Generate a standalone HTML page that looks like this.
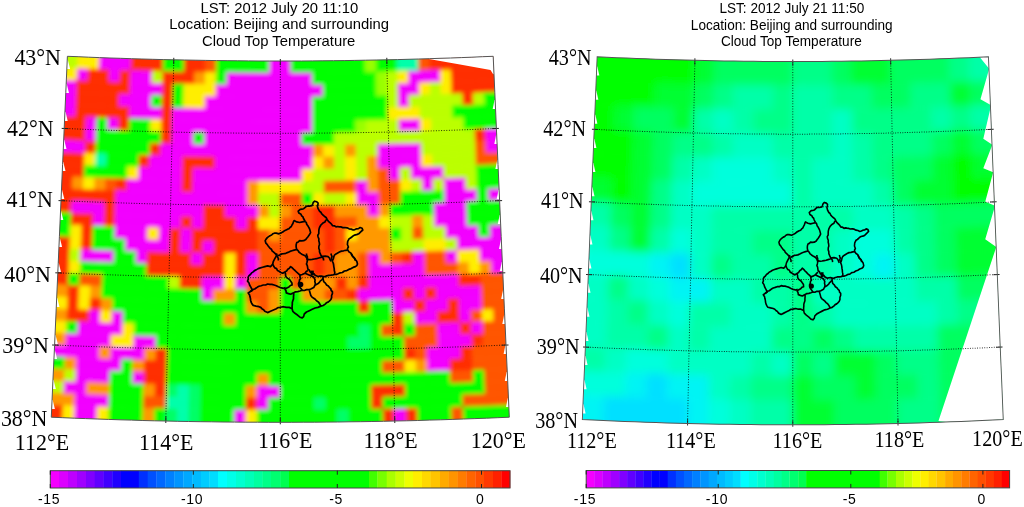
<!DOCTYPE html><html><head><meta charset="utf-8"><style>html,body{margin:0;padding:0;background:#fff;overflow:hidden}svg{display:block}text{opacity:0.999}</style></head><body>
<svg width="1024" height="507" viewBox="0 0 1024 507">
<rect width="1024" height="507" fill="#fff"/>
<g><clipPath id="clip1"><polygon points="67.4,56.3 78.1,56.7 88.7,57.2 99.3,57.6 110,58 120.6,58.3 131.3,58.7 141.9,59 152.6,59.3 163.2,59.6 173.8,59.8 184.5,60 195.1,60.2 205.8,60.4 216.4,60.6 227.1,60.7 237.7,60.8 248.4,60.9 259,61 269.7,61 280.3,61 290.9,61 301.6,61 312.2,60.9 322.9,60.8 333.5,60.7 344.2,60.6 354.8,60.4 365.5,60.2 376.1,60 386.8,59.8 397.4,59.6 408,59.3 418.7,59 429.3,58.7 440,58.3 450.6,58 461.3,57.6 471.9,57.2 482.5,56.7 493.2,56.3 494.8,92.3 496.4,128.4 498,164.5 499.6,200.6 501.2,236.7 502.8,272.8 504.4,308.9 506,345 507.7,381.1 509.3,417.2 497.8,417.7 486.4,418.2 474.9,418.6 463.5,419 452.1,419.4 440.6,419.8 429.2,420.1 417.7,420.5 406.3,420.8 394.8,421 383.4,421.3 371.9,421.5 360.5,421.7 349,421.8 337.6,422 326.1,422.1 314.7,422.2 303.2,422.2 291.8,422.3 280.3,422.3 268.8,422.3 257.4,422.2 245.9,422.2 234.5,422.1 223,422 211.6,421.8 200.1,421.7 188.7,421.5 177.2,421.3 165.8,421 154.3,420.8 142.9,420.5 131.4,420.1 120,419.8 108.5,419.4 97.1,419 85.7,418.6 74.2,418.2 62.8,417.7 51.3,417.2 52.9,381.1 54.6,345 56.2,308.9 57.8,272.8 59.4,236.7 61,200.6 62.6,164.5 64.2,128.4 65.8,92.3"/></clipPath>
<filter id="blur1" x="-5%" y="-5%" width="110%" height="110%"><feGaussianBlur stdDeviation="2.0"/></filter>
<g clip-path="url(#clip1)">
<g filter="url(#blur1)">
<polygon points="60,45.1 78.5,45.9 77.6,68.7 58.9,67.9" fill="#bbff00" stroke="#bbff00" stroke-width="0.8"/>
<polygon points="78.5,45.9 89.1,46.3 99.8,46.7 98.9,69.6 88.2,69.2 77.6,68.7" fill="#ffee00" stroke="#ffee00" stroke-width="0.8"/>
<polygon points="99.8,46.7 110.4,47.1 121,47.5 131.6,47.8 130.9,70.7 120.2,70.4 109.6,70 98.9,69.6" fill="#f200ff" stroke="#f200ff" stroke-width="0.8"/>
<polygon points="131.6,47.8 142.2,48.2 152.8,48.5 163.5,48.7 162.9,71.6 152.2,71.3 141.6,71 130.9,70.7" fill="#ff2d00" stroke="#ff2d00" stroke-width="0.8"/>
<polygon points="163.5,48.7 174.1,49 184.7,49.2 184.2,72.1 173.6,71.9 162.9,71.6" fill="#00ff00" stroke="#00ff00" stroke-width="0.8"/>
<polygon points="184.7,49.2 195.3,49.4 205.9,49.6 205.6,72.5 194.9,72.3 184.2,72.1" fill="#ff2d00" stroke="#ff2d00" stroke-width="0.8"/>
<polygon points="205.9,49.6 216.6,49.7 216.3,72.6 205.6,72.5" fill="#ff5500" stroke="#ff5500" stroke-width="0.8"/>
<polygon points="216.6,49.7 227.2,49.9 237.8,50 248.4,50.1 259.1,50.1 269.7,50.1 269.6,73 259,73 248.3,72.9 237.6,72.9 226.9,72.7 216.3,72.6" fill="#00ff00" stroke="#00ff00" stroke-width="0.8"/>
<polygon points="269.7,50.1 280.3,50.2 290.9,50.1 291,73 280.3,73 269.6,73" fill="#f200ff" stroke="#f200ff" stroke-width="0.8"/>
<polygon points="290.9,50.1 301.5,50.1 312.2,50.1 322.8,50 333.4,49.9 344,49.7 354.7,49.6 365.3,49.4 365.7,72.3 355,72.5 344.3,72.6 333.7,72.7 323,72.9 312.3,72.9 301.6,73 291,73" fill="#00ff00" stroke="#00ff00" stroke-width="0.8"/>
<polygon points="365.3,49.4 375.9,49.2 376.4,72.1 365.7,72.3" fill="#99ff00" stroke="#99ff00" stroke-width="0.8"/>
<polygon points="375.9,49.2 386.5,49 397.1,48.7 397.7,71.6 387,71.9 376.4,72.1" fill="#00ff00" stroke="#00ff00" stroke-width="0.8"/>
<polygon points="397.1,48.7 407.8,48.5 418.4,48.2 419,71 408.4,71.3 397.7,71.6" fill="#00ffaa" stroke="#00ffaa" stroke-width="0.8"/>
<polygon points="418.4,48.2 429,47.8 429.7,70.7 419,71" fill="#ff5500" stroke="#ff5500" stroke-width="0.8"/>
<polygon points="429,47.8 440.9,47.5 452.9,47 464.8,46.6 476.8,46.1 488.7,45.6 500.6,45.1 501.7,67.9 489.7,68.5 477.7,69 465.7,69.5 453.7,69.9 441.7,70.3 429.7,70.7" fill="#ff2d00" stroke="#ff2d00" stroke-width="0.8"/>
<polygon points="58.9,67.9 77.6,68.7 77,80.8 58.3,80" fill="#ffee00" stroke="#ffee00" stroke-width="0.8"/>
<polygon points="77.6,68.7 88.2,69.2 87.7,81.2 77,80.8" fill="#f200ff" stroke="#f200ff" stroke-width="0.8"/>
<polygon points="88.2,69.2 98.9,69.6 109.6,70 109.1,82 98.4,81.6 87.7,81.2" fill="#ff2d00" stroke="#ff2d00" stroke-width="0.8"/>
<polygon points="109.6,70 120.2,70.4 119.8,82.4 109.1,82" fill="#f200ff" stroke="#f200ff" stroke-width="0.8"/>
<polygon points="120.2,70.4 130.9,70.7 130.5,82.7 119.8,82.4" fill="#ff2d00" stroke="#ff2d00" stroke-width="0.8"/>
<polygon points="130.9,70.7 141.6,71 152.2,71.3 151.9,83.4 141.2,83.1 130.5,82.7" fill="#f200ff" stroke="#f200ff" stroke-width="0.8"/>
<polygon points="152.2,71.3 162.9,71.6 162.6,83.6 151.9,83.4" fill="#bbff00" stroke="#bbff00" stroke-width="0.8"/>
<polygon points="162.9,71.6 173.6,71.9 184.2,72.1 194.9,72.3 194.7,84.3 184,84.1 173.3,83.9 162.6,83.6" fill="#ff2d00" stroke="#ff2d00" stroke-width="0.8"/>
<polygon points="194.9,72.3 205.6,72.5 205.4,84.5 194.7,84.3" fill="#ff9900" stroke="#ff9900" stroke-width="0.8"/>
<polygon points="205.6,72.5 216.3,72.6 216.1,84.7 205.4,84.5" fill="#ffee00" stroke="#ffee00" stroke-width="0.8"/>
<polygon points="216.3,72.6 226.9,72.7 226.8,84.8 216.1,84.7" fill="#00ff00" stroke="#00ff00" stroke-width="0.8"/>
<polygon points="226.9,72.7 237.6,72.9 248.3,72.9 259,73 269.6,73 280.3,73 291,73 301.6,73 312.3,72.9 312.4,85 301.7,85 291,85.1 280.3,85.1 269.6,85.1 258.9,85 248.2,85 237.5,84.9 226.8,84.8" fill="#f200ff" stroke="#f200ff" stroke-width="0.8"/>
<polygon points="312.3,72.9 323,72.9 333.7,72.7 344.3,72.6 355,72.5 365.7,72.3 376.4,72.1 376.6,84.1 365.9,84.3 355.2,84.5 344.5,84.7 333.8,84.8 323.1,84.9 312.4,85" fill="#00ff00" stroke="#00ff00" stroke-width="0.8"/>
<polygon points="376.4,72.1 387,71.9 387.3,83.9 376.6,84.1" fill="#99ff00" stroke="#99ff00" stroke-width="0.8"/>
<polygon points="387,71.9 397.7,71.6 398,83.6 387.3,83.9" fill="#bbff00" stroke="#bbff00" stroke-width="0.8"/>
<polygon points="397.7,71.6 408.4,71.3 408.7,83.4 398,83.6" fill="#ffee00" stroke="#ffee00" stroke-width="0.8"/>
<polygon points="408.4,71.3 419,71 429.7,70.7 440.4,70.4 440.8,82.4 430.1,82.7 419.4,83.1 408.7,83.4" fill="#f200ff" stroke="#f200ff" stroke-width="0.8"/>
<polygon points="440.4,70.4 451,70 451.5,82 440.8,82.4" fill="#ffee00" stroke="#ffee00" stroke-width="0.8"/>
<polygon points="451,70 463.7,69.5 476.4,69 489,68.5 501.7,67.9 502.3,80 489.6,80.5 476.9,81.1 464.2,81.6 451.5,82" fill="#ff2d00" stroke="#ff2d00" stroke-width="0.8"/>
<polygon points="58.3,80 77,80.8 76.5,92.8 57.8,92" fill="#f200ff" stroke="#f200ff" stroke-width="0.8"/>
<polygon points="77,80.8 87.7,81.2 98.4,81.6 109.1,82 119.8,82.4 130.5,82.7 130.1,94.8 119.4,94.4 108.7,94.1 98,93.7 87.3,93.3 76.5,92.8" fill="#ff2d00" stroke="#ff2d00" stroke-width="0.8"/>
<polygon points="130.5,82.7 141.2,83.1 151.9,83.4 162.6,83.6 162.3,95.7 151.6,95.4 140.9,95.1 130.1,94.8" fill="#f200ff" stroke="#f200ff" stroke-width="0.8"/>
<polygon points="162.6,83.6 173.3,83.9 173,95.9 162.3,95.7" fill="#ff2d00" stroke="#ff2d00" stroke-width="0.8"/>
<polygon points="173.3,83.9 184,84.1 183.8,96.2 173,95.9" fill="#00ff00" stroke="#00ff00" stroke-width="0.8"/>
<polygon points="184,84.1 194.7,84.3 205.4,84.5 216.1,84.7 215.9,96.7 205.2,96.5 194.5,96.4 183.8,96.2" fill="#ffee00" stroke="#ffee00" stroke-width="0.8"/>
<polygon points="216.1,84.7 226.8,84.8 237.5,84.9 248.2,85 258.9,85 269.6,85.1 280.3,85.1 291,85.1 301.7,85 312.4,85 323.1,84.9 323.2,96.9 312.5,97 301.8,97.1 291,97.1 280.3,97.1 269.6,97.1 258.8,97.1 248.1,97 237.4,96.9 226.7,96.8 215.9,96.7" fill="#f200ff" stroke="#f200ff" stroke-width="0.8"/>
<polygon points="323.1,84.9 333.8,84.8 344.5,84.7 355.2,84.5 365.9,84.3 376.6,84.1 376.8,96.2 366.1,96.4 355.4,96.5 344.7,96.7 333.9,96.8 323.2,96.9" fill="#00ff00" stroke="#00ff00" stroke-width="0.8"/>
<polygon points="376.6,84.1 387.3,83.9 387.6,95.9 376.8,96.2" fill="#99ff00" stroke="#99ff00" stroke-width="0.8"/>
<polygon points="387.3,83.9 398,83.6 398.3,95.7 387.6,95.9" fill="#bbff00" stroke="#bbff00" stroke-width="0.8"/>
<polygon points="398,83.6 408.7,83.4 419.4,83.1 419.7,95.1 409,95.4 398.3,95.7" fill="#f200ff" stroke="#f200ff" stroke-width="0.8"/>
<polygon points="419.4,83.1 430.1,82.7 430.5,94.8 419.7,95.1" fill="#ffee00" stroke="#ffee00" stroke-width="0.8"/>
<polygon points="430.1,82.7 440.8,82.4 441.2,94.4 430.5,94.8" fill="#bbff00" stroke="#bbff00" stroke-width="0.8"/>
<polygon points="440.8,82.4 451.5,82 451.9,94.1 441.2,94.4" fill="#ffee00" stroke="#ffee00" stroke-width="0.8"/>
<polygon points="451.5,82 464.2,81.6 476.9,81.1 489.6,80.5 502.3,80 502.8,92 490.1,92.6 477.4,93.1 464.6,93.6 451.9,94.1" fill="#ff2d00" stroke="#ff2d00" stroke-width="0.8"/>
<polygon points="57.8,92 76.5,92.8 76,104.8 57.2,104" fill="#f200ff" stroke="#f200ff" stroke-width="0.8"/>
<polygon points="76.5,92.8 87.3,93.3 98,93.7 108.7,94.1 119.4,94.4 119,106.5 108.3,106.1 97.5,105.7 86.8,105.3 76,104.8" fill="#ff2d00" stroke="#ff2d00" stroke-width="0.8"/>
<polygon points="119.4,94.4 130.1,94.8 140.9,95.1 151.6,95.4 151.3,107.4 140.5,107.1 129.8,106.8 119,106.5" fill="#f200ff" stroke="#f200ff" stroke-width="0.8"/>
<polygon points="151.6,95.4 162.3,95.7 162,107.7 151.3,107.4" fill="#00ff00" stroke="#00ff00" stroke-width="0.8"/>
<polygon points="162.3,95.7 173,95.9 172.8,108 162,107.7" fill="#ff2d00" stroke="#ff2d00" stroke-width="0.8"/>
<polygon points="173,95.9 183.8,96.2 183.5,108.2 172.8,108" fill="#00ff00" stroke="#00ff00" stroke-width="0.8"/>
<polygon points="183.8,96.2 194.5,96.4 205.2,96.5 205,108.6 194.3,108.4 183.5,108.2" fill="#ffee00" stroke="#ffee00" stroke-width="0.8"/>
<polygon points="205.2,96.5 215.9,96.7 226.7,96.8 237.4,96.9 248.1,97 258.8,97.1 269.6,97.1 280.3,97.1 291,97.1 301.8,97.1 312.5,97 312.6,109.1 301.8,109.1 291.1,109.2 280.3,109.2 269.5,109.2 258.8,109.1 248,109.1 237.3,109 226.5,108.9 215.8,108.7 205,108.6" fill="#f200ff" stroke="#f200ff" stroke-width="0.8"/>
<polygon points="312.5,97 323.2,96.9 333.9,96.8 344.7,96.7 355.4,96.5 366.1,96.4 376.8,96.2 387.6,95.9 387.8,108 377.1,108.2 366.3,108.4 355.6,108.6 344.8,108.7 334.1,108.9 323.3,109 312.6,109.1" fill="#00ff00" stroke="#00ff00" stroke-width="0.8"/>
<polygon points="387.6,95.9 398.3,95.7 398.6,107.7 387.8,108" fill="#bbff00" stroke="#bbff00" stroke-width="0.8"/>
<polygon points="398.3,95.7 409,95.4 409.3,107.4 398.6,107.7" fill="#f200ff" stroke="#f200ff" stroke-width="0.8"/>
<polygon points="409,95.4 419.7,95.1 430.5,94.8 441.2,94.4 451.9,94.1 462.6,93.7 463.1,105.7 452.3,106.1 441.6,106.5 430.8,106.8 420.1,107.1 409.3,107.4" fill="#bbff00" stroke="#bbff00" stroke-width="0.8"/>
<polygon points="462.6,93.7 473.3,93.3 473.8,105.3 463.1,105.7" fill="#ff2d00" stroke="#ff2d00" stroke-width="0.8"/>
<polygon points="473.3,93.3 484.1,92.8 484.6,104.8 473.8,105.3" fill="#bbff00" stroke="#bbff00" stroke-width="0.8"/>
<polygon points="484.1,92.8 502.8,92 503.4,104 484.6,104.8" fill="#00ff00" stroke="#00ff00" stroke-width="0.8"/>
<polygon points="57.2,104 76,104.8 75.5,116.9 56.7,116" fill="#f200ff" stroke="#f200ff" stroke-width="0.8"/>
<polygon points="76,104.8 86.8,105.3 97.5,105.7 108.3,106.1 119,106.5 129.8,106.8 129.4,118.9 118.6,118.5 107.8,118.1 97.1,117.7 86.3,117.3 75.5,116.9" fill="#ff2d00" stroke="#ff2d00" stroke-width="0.8"/>
<polygon points="129.8,106.8 140.5,107.1 151.3,107.4 162,107.7 161.7,119.8 150.9,119.5 140.2,119.2 129.4,118.9" fill="#f200ff" stroke="#f200ff" stroke-width="0.8"/>
<polygon points="162,107.7 172.8,108 172.5,120 161.7,119.8" fill="#ff2d00" stroke="#ff2d00" stroke-width="0.8"/>
<polygon points="172.8,108 183.5,108.2 194.3,108.4 205,108.6 215.8,108.7 226.5,108.9 237.3,109 248,109.1 258.8,109.1 269.5,109.2 280.3,109.2 291.1,109.2 301.8,109.1 312.6,109.1 312.6,121.1 301.9,121.2 291.1,121.2 280.3,121.2 269.5,121.2 258.7,121.2 248,121.1 237.2,121 226.4,120.9 215.6,120.8 204.8,120.6 194.1,120.4 183.3,120.2 172.5,120" fill="#f200ff" stroke="#f200ff" stroke-width="0.8"/>
<polygon points="312.6,109.1 323.3,109 334.1,108.9 344.8,108.7 355.6,108.6 366.3,108.4 377.1,108.2 387.8,108 388.1,120 377.3,120.2 366.5,120.4 355.8,120.6 345,120.8 334.2,120.9 323.4,121 312.6,121.1" fill="#00ff00" stroke="#00ff00" stroke-width="0.8"/>
<polygon points="387.8,108 398.6,107.7 409.3,107.4 420.1,107.1 420.4,119.2 409.7,119.5 398.9,119.8 388.1,120" fill="#ffee00" stroke="#ffee00" stroke-width="0.8"/>
<polygon points="420.1,107.1 430.8,106.8 441.6,106.5 452.3,106.1 452.8,118.1 442,118.5 431.2,118.9 420.4,119.2" fill="#bbff00" stroke="#bbff00" stroke-width="0.8"/>
<polygon points="452.3,106.1 465.1,105.6 477.9,105.1 490.6,104.6 503.4,104 503.9,116 491.1,116.6 478.3,117.2 465.6,117.7 452.8,118.1" fill="#00ff00" stroke="#00ff00" stroke-width="0.8"/>
<polygon points="56.7,116 71.5,116.7 86.3,117.3 85.8,129.4 71,128.7 56.1,128.1" fill="#ff2d00" stroke="#ff2d00" stroke-width="0.8"/>
<polygon points="86.3,117.3 97.1,117.7 96.6,129.8 85.8,129.4" fill="#f200ff" stroke="#f200ff" stroke-width="0.8"/>
<polygon points="97.1,117.7 107.8,118.1 107.4,130.2 96.6,129.8" fill="#00ff00" stroke="#00ff00" stroke-width="0.8"/>
<polygon points="107.8,118.1 118.6,118.5 118.2,130.6 107.4,130.2" fill="#f200ff" stroke="#f200ff" stroke-width="0.8"/>
<polygon points="118.6,118.5 129.4,118.9 129,130.9 118.2,130.6" fill="#ff2d00" stroke="#ff2d00" stroke-width="0.8"/>
<polygon points="129.4,118.9 140.2,119.2 150.9,119.5 150.6,131.5 139.8,131.2 129,130.9" fill="#00ff00" stroke="#00ff00" stroke-width="0.8"/>
<polygon points="150.9,119.5 161.7,119.8 161.4,131.8 150.6,131.5" fill="#ffee00" stroke="#ffee00" stroke-width="0.8"/>
<polygon points="161.7,119.8 172.5,120 172.2,132.1 161.4,131.8" fill="#ff2d00" stroke="#ff2d00" stroke-width="0.8"/>
<polygon points="172.5,120 183.3,120.2 194.1,120.4 204.8,120.6 215.6,120.8 226.4,120.9 237.2,121 248,121.1 258.7,121.2 269.5,121.2 280.3,121.2 291.1,121.2 301.9,121.2 312.6,121.1 312.7,133.2 301.9,133.2 291.1,133.2 280.3,133.3 269.5,133.2 258.7,133.2 247.9,133.2 237.1,133.1 226.3,133 215.5,132.8 204.6,132.7 193.8,132.5 183,132.3 172.2,132.1" fill="#f200ff" stroke="#f200ff" stroke-width="0.8"/>
<polygon points="312.6,121.1 323.4,121 334.2,120.9 345,120.8 355.8,120.6 356,132.7 345.1,132.8 334.3,133 323.5,133.1 312.7,133.2" fill="#00ff00" stroke="#00ff00" stroke-width="0.8"/>
<polygon points="355.8,120.6 366.5,120.4 366.8,132.5 356,132.7" fill="#99ff00" stroke="#99ff00" stroke-width="0.8"/>
<polygon points="366.5,120.4 377.3,120.2 388.1,120 398.9,119.8 399.2,131.8 388.4,132.1 377.6,132.3 366.8,132.5" fill="#bbff00" stroke="#bbff00" stroke-width="0.8"/>
<polygon points="398.9,119.8 409.7,119.5 420.4,119.2 420.8,131.2 410,131.5 399.2,131.8" fill="#f200ff" stroke="#f200ff" stroke-width="0.8"/>
<polygon points="420.4,119.2 431.2,118.9 431.6,130.9 420.8,131.2" fill="#ffee00" stroke="#ffee00" stroke-width="0.8"/>
<polygon points="431.2,118.9 442,118.5 452.8,118.1 463.5,117.7 464,129.8 453.2,130.2 442.4,130.6 431.6,130.9" fill="#bbff00" stroke="#bbff00" stroke-width="0.8"/>
<polygon points="463.5,117.7 477,117.2 490.5,116.6 503.9,116 504.5,128.1 491,128.7 477.5,129.2 464,129.8" fill="#00ff00" stroke="#00ff00" stroke-width="0.8"/>
<polygon points="56.1,128.1 71,128.7 85.8,129.4 85.3,141.4 70.4,140.8 55.6,140.1" fill="#ff2d00" stroke="#ff2d00" stroke-width="0.8"/>
<polygon points="85.8,129.4 96.6,129.8 96.2,141.8 85.3,141.4" fill="#f200ff" stroke="#f200ff" stroke-width="0.8"/>
<polygon points="96.6,129.8 107.4,130.2 118.2,130.6 129,130.9 139.8,131.2 150.6,131.5 161.4,131.8 161.1,143.8 150.3,143.6 139.5,143.3 128.6,142.9 117.8,142.6 107,142.2 96.2,141.8" fill="#00ff00" stroke="#00ff00" stroke-width="0.8"/>
<polygon points="161.4,131.8 172.2,132.1 172,144.1 161.1,143.8" fill="#ff2d00" stroke="#ff2d00" stroke-width="0.8"/>
<polygon points="172.2,132.1 183,132.3 193.8,132.5 193.6,144.5 182.8,144.3 172,144.1" fill="#f200ff" stroke="#f200ff" stroke-width="0.8"/>
<polygon points="193.8,132.5 204.6,132.7 204.5,144.7 193.6,144.5" fill="#00ff00" stroke="#00ff00" stroke-width="0.8"/>
<polygon points="204.6,132.7 215.5,132.8 226.3,133 237.1,133.1 247.9,133.2 258.7,133.2 269.5,133.2 280.3,133.3 291.1,133.2 301.9,133.2 302,145.3 291.1,145.3 280.3,145.3 269.5,145.3 258.6,145.3 247.8,145.2 237,145.1 226.1,145 215.3,144.9 204.5,144.7" fill="#f200ff" stroke="#f200ff" stroke-width="0.8"/>
<polygon points="301.9,133.2 312.7,133.2 323.5,133.1 334.3,133 334.5,145 323.6,145.1 312.8,145.2 302,145.3" fill="#00ff00" stroke="#00ff00" stroke-width="0.8"/>
<polygon points="334.3,133 345.1,132.8 356,132.7 366.8,132.5 377.6,132.3 388.4,132.1 399.2,131.8 410,131.5 420.8,131.2 431.6,130.9 442.4,130.6 453.2,130.2 464,129.8 474.8,129.4 475.3,141.4 464.4,141.8 453.6,142.2 442.8,142.6 432,142.9 421.1,143.3 410.3,143.6 399.5,143.8 388.6,144.1 377.8,144.3 367,144.5 356.1,144.7 345.3,144.9 334.5,145" fill="#bbff00" stroke="#bbff00" stroke-width="0.8"/>
<polygon points="474.8,129.4 485.6,128.9 486.1,140.9 475.3,141.4" fill="#ff2d00" stroke="#ff2d00" stroke-width="0.8"/>
<polygon points="485.6,128.9 504.5,128.1 505,140.1 486.1,140.9" fill="#f200ff" stroke="#f200ff" stroke-width="0.8"/>
<polygon points="55.6,140.1 70.4,140.8 85.3,141.4 84.8,153.4 69.9,152.8 55,152.1" fill="#f200ff" stroke="#f200ff" stroke-width="0.8"/>
<polygon points="85.3,141.4 96.2,141.8 95.7,153.8 84.8,153.4" fill="#ff2d00" stroke="#ff2d00" stroke-width="0.8"/>
<polygon points="96.2,141.8 107,142.2 117.8,142.6 128.6,142.9 139.5,143.3 150.3,143.6 150,155.6 139.1,155.3 128.3,155 117.4,154.6 106.6,154.2 95.7,153.8" fill="#00ff00" stroke="#00ff00" stroke-width="0.8"/>
<polygon points="150.3,143.6 161.1,143.8 160.8,155.9 150,155.6" fill="#ff2d00" stroke="#ff2d00" stroke-width="0.8"/>
<polygon points="161.1,143.8 172,144.1 182.8,144.3 193.6,144.5 204.5,144.7 215.3,144.9 226.1,145 237,145.1 247.8,145.2 258.6,145.3 269.5,145.3 280.3,145.3 291.1,145.3 302,145.3 312.8,145.2 312.9,157.2 302,157.3 291.2,157.3 280.3,157.3 269.4,157.3 258.6,157.3 247.7,157.2 236.9,157.2 226,157 215.1,156.9 204.3,156.8 193.4,156.6 182.6,156.4 171.7,156.1 160.8,155.9" fill="#f200ff" stroke="#f200ff" stroke-width="0.8"/>
<polygon points="312.8,145.2 323.6,145.1 323.7,157.2 312.9,157.2" fill="#ff9900" stroke="#ff9900" stroke-width="0.8"/>
<polygon points="323.6,145.1 334.5,145 334.6,157 323.7,157.2" fill="#ffee00" stroke="#ffee00" stroke-width="0.8"/>
<polygon points="334.5,145 345.3,144.9 345.5,156.9 334.6,157" fill="#bbff00" stroke="#bbff00" stroke-width="0.8"/>
<polygon points="345.3,144.9 356.1,144.7 356.3,156.8 345.5,156.9" fill="#ff9900" stroke="#ff9900" stroke-width="0.8"/>
<polygon points="356.1,144.7 367,144.5 377.8,144.3 378,156.4 367.2,156.6 356.3,156.8" fill="#bbff00" stroke="#bbff00" stroke-width="0.8"/>
<polygon points="377.8,144.3 388.6,144.1 399.5,143.8 410.3,143.6 421.1,143.3 421.5,155.3 410.6,155.6 399.8,155.9 388.9,156.1 378,156.4" fill="#f200ff" stroke="#f200ff" stroke-width="0.8"/>
<polygon points="421.1,143.3 432,142.9 442.8,142.6 453.6,142.2 464.4,141.8 475.3,141.4 475.8,153.4 464.9,153.8 454,154.2 443.2,154.6 432.3,155 421.5,155.3" fill="#bbff00" stroke="#bbff00" stroke-width="0.8"/>
<polygon points="475.3,141.4 486.1,140.9 486.6,153 475.8,153.4" fill="#ff5500" stroke="#ff5500" stroke-width="0.8"/>
<polygon points="486.1,140.9 505,140.1 505.6,152.1 486.6,153" fill="#f200ff" stroke="#f200ff" stroke-width="0.8"/>
<polygon points="55,152.1 69.9,152.8 84.8,153.4 84.4,165.5 69.4,164.8 54.4,164.2" fill="#ff2d00" stroke="#ff2d00" stroke-width="0.8"/>
<polygon points="84.8,153.4 95.7,153.8 95.2,165.9 84.4,165.5" fill="#ffee00" stroke="#ffee00" stroke-width="0.8"/>
<polygon points="95.7,153.8 106.6,154.2 106.1,166.3 95.2,165.9" fill="#00ffaa" stroke="#00ffaa" stroke-width="0.8"/>
<polygon points="106.6,154.2 117.4,154.6 128.3,155 139.1,155.3 138.8,167.3 127.9,167 117,166.7 106.1,166.3" fill="#00ff00" stroke="#00ff00" stroke-width="0.8"/>
<polygon points="139.1,155.3 150,155.6 149.7,167.6 138.8,167.3" fill="#ff2d00" stroke="#ff2d00" stroke-width="0.8"/>
<polygon points="150,155.6 160.8,155.9 171.7,156.1 182.6,156.4 182.3,168.4 171.4,168.2 160.5,167.9 149.7,167.6" fill="#f200ff" stroke="#f200ff" stroke-width="0.8"/>
<polygon points="182.6,156.4 193.4,156.6 204.3,156.8 215.1,156.9 215,169 204.1,168.8 193.2,168.6 182.3,168.4" fill="#ff2d00" stroke="#ff2d00" stroke-width="0.8"/>
<polygon points="215.1,156.9 226,157 236.9,157.2 247.7,157.2 258.6,157.3 269.4,157.3 280.3,157.3 291.2,157.3 302,157.3 312.9,157.2 313,169.3 302.1,169.3 291.2,169.4 280.3,169.4 269.4,169.4 258.5,169.3 247.6,169.3 236.7,169.2 225.9,169.1 215,169" fill="#f200ff" stroke="#f200ff" stroke-width="0.8"/>
<polygon points="312.9,157.2 323.7,157.2 323.9,169.2 313,169.3" fill="#ffee00" stroke="#ffee00" stroke-width="0.8"/>
<polygon points="323.7,157.2 334.6,157 334.7,169.1 323.9,169.2" fill="#ff9900" stroke="#ff9900" stroke-width="0.8"/>
<polygon points="334.6,157 345.5,156.9 345.6,169 334.7,169.1" fill="#bbff00" stroke="#bbff00" stroke-width="0.8"/>
<polygon points="345.5,156.9 356.3,156.8 356.5,168.8 345.6,169" fill="#ffee00" stroke="#ffee00" stroke-width="0.8"/>
<polygon points="356.3,156.8 367.2,156.6 367.4,168.6 356.5,168.8" fill="#bbff00" stroke="#bbff00" stroke-width="0.8"/>
<polygon points="367.2,156.6 378,156.4 378.3,168.4 367.4,168.6" fill="#ff9900" stroke="#ff9900" stroke-width="0.8"/>
<polygon points="378,156.4 388.9,156.1 399.8,155.9 410.6,155.6 421.5,155.3 421.8,167.3 410.9,167.6 400.1,167.9 389.2,168.2 378.3,168.4" fill="#f200ff" stroke="#f200ff" stroke-width="0.8"/>
<polygon points="421.5,155.3 432.3,155 432.7,167 421.8,167.3" fill="#ffee00" stroke="#ffee00" stroke-width="0.8"/>
<polygon points="432.3,155 443.2,154.6 454,154.2 464.9,153.8 475.8,153.4 476.2,165.5 465.4,165.9 454.5,166.3 443.6,166.7 432.7,167" fill="#bbff00" stroke="#bbff00" stroke-width="0.8"/>
<polygon points="475.8,153.4 490.7,152.8 505.6,152.1 506.2,164.2 491.2,164.8 476.2,165.5" fill="#ff5500" stroke="#ff5500" stroke-width="0.8"/>
<polygon points="54.4,164.2 69.4,164.8 84.4,165.5 83.9,177.5 68.9,176.9 53.9,176.2" fill="#ff2d00" stroke="#ff2d00" stroke-width="0.8"/>
<polygon points="84.4,165.5 95.2,165.9 106.1,166.3 117,166.7 127.9,167 127.5,179 116.6,178.7 105.7,178.3 94.8,177.9 83.9,177.5" fill="#00ff00" stroke="#00ff00" stroke-width="0.8"/>
<polygon points="127.9,167 138.8,167.3 138.4,179.4 127.5,179" fill="#ffee00" stroke="#ffee00" stroke-width="0.8"/>
<polygon points="138.8,167.3 149.7,167.6 160.5,167.9 171.4,168.2 182.3,168.4 182.1,180.4 171.2,180.2 160.2,180 149.3,179.7 138.4,179.4" fill="#f200ff" stroke="#f200ff" stroke-width="0.8"/>
<polygon points="182.3,168.4 193.2,168.6 193,180.7 182.1,180.4" fill="#ff2d00" stroke="#ff2d00" stroke-width="0.8"/>
<polygon points="193.2,168.6 204.1,168.8 215,169 225.9,169.1 236.7,169.2 247.6,169.3 258.5,169.3 269.4,169.4 280.3,169.4 291.2,169.4 302.1,169.3 302.1,181.4 291.2,181.4 280.3,181.4 269.4,181.4 258.5,181.4 247.6,181.3 236.6,181.2 225.7,181.1 214.8,181 203.9,180.8 193,180.7" fill="#f200ff" stroke="#f200ff" stroke-width="0.8"/>
<polygon points="302.1,169.3 313,169.3 313,181.3 302.1,181.4" fill="#ffee00" stroke="#ffee00" stroke-width="0.8"/>
<polygon points="313,169.3 323.9,169.2 334.7,169.1 345.6,169 345.8,181 334.9,181.1 324,181.2 313,181.3" fill="#bbff00" stroke="#bbff00" stroke-width="0.8"/>
<polygon points="345.6,169 356.5,168.8 356.7,180.8 345.8,181" fill="#ffee00" stroke="#ffee00" stroke-width="0.8"/>
<polygon points="356.5,168.8 367.4,168.6 367.6,180.7 356.7,180.8" fill="#bbff00" stroke="#bbff00" stroke-width="0.8"/>
<polygon points="367.4,168.6 378.3,168.4 378.5,180.4 367.6,180.7" fill="#ff9900" stroke="#ff9900" stroke-width="0.8"/>
<polygon points="378.3,168.4 389.2,168.2 389.4,180.2 378.5,180.4" fill="#ff5500" stroke="#ff5500" stroke-width="0.8"/>
<polygon points="389.2,168.2 400.1,167.9 400.4,180 389.4,180.2" fill="#f200ff" stroke="#f200ff" stroke-width="0.8"/>
<polygon points="400.1,167.9 410.9,167.6 411.3,179.7 400.4,180" fill="#bbff00" stroke="#bbff00" stroke-width="0.8"/>
<polygon points="410.9,167.6 421.8,167.3 432.7,167 443.6,166.7 444,178.7 433.1,179 422.2,179.4 411.3,179.7" fill="#f200ff" stroke="#f200ff" stroke-width="0.8"/>
<polygon points="443.6,166.7 454.5,166.3 465.4,165.9 476.2,165.5 476.7,177.5 465.8,177.9 454.9,178.3 444,178.7" fill="#bbff00" stroke="#bbff00" stroke-width="0.8"/>
<polygon points="476.2,165.5 491.2,164.8 506.2,164.2 506.7,176.2 491.7,176.9 476.7,177.5" fill="#00ff00" stroke="#00ff00" stroke-width="0.8"/>
<polygon points="53.9,176.2 73,177 72.5,189.1 53.3,188.2" fill="#ff2d00" stroke="#ff2d00" stroke-width="0.8"/>
<polygon points="73,177 83.9,177.5 83.4,189.5 72.5,189.1" fill="#ff9900" stroke="#ff9900" stroke-width="0.8"/>
<polygon points="83.9,177.5 94.8,177.9 94.3,190 83.4,189.5" fill="#ffee00" stroke="#ffee00" stroke-width="0.8"/>
<polygon points="94.8,177.9 105.7,178.3 105.3,190.4 94.3,190" fill="#ff9900" stroke="#ff9900" stroke-width="0.8"/>
<polygon points="105.7,178.3 116.6,178.7 116.2,190.7 105.3,190.4" fill="#ff5500" stroke="#ff5500" stroke-width="0.8"/>
<polygon points="116.6,178.7 127.5,179 127.1,191.1 116.2,190.7" fill="#ff2d00" stroke="#ff2d00" stroke-width="0.8"/>
<polygon points="127.5,179 138.4,179.4 149.3,179.7 160.2,180 171.2,180.2 182.1,180.4 181.8,192.5 170.9,192.3 159.9,192 149,191.7 138.1,191.4 127.1,191.1" fill="#f200ff" stroke="#f200ff" stroke-width="0.8"/>
<polygon points="182.1,180.4 193,180.7 192.8,192.7 181.8,192.5" fill="#ff2d00" stroke="#ff2d00" stroke-width="0.8"/>
<polygon points="193,180.7 203.9,180.8 214.8,181 225.7,181.1 236.6,181.2 247.6,181.3 247.5,193.4 236.5,193.3 225.6,193.2 214.6,193 203.7,192.9 192.8,192.7" fill="#f200ff" stroke="#f200ff" stroke-width="0.8"/>
<polygon points="247.6,181.3 258.5,181.4 258.4,193.4 247.5,193.4" fill="#ff9900" stroke="#ff9900" stroke-width="0.8"/>
<polygon points="258.5,181.4 269.4,181.4 280.3,181.4 291.2,181.4 302.1,181.4 302.2,193.4 291.2,193.5 280.3,193.5 269.4,193.5 258.4,193.4" fill="#ffee00" stroke="#ffee00" stroke-width="0.8"/>
<polygon points="302.1,181.4 313,181.3 324,181.2 324.1,193.3 313.1,193.4 302.2,193.4" fill="#bbff00" stroke="#bbff00" stroke-width="0.8"/>
<polygon points="324,181.2 334.9,181.1 345.8,181 356.7,180.8 356.9,192.9 346,193 335,193.2 324.1,193.3" fill="#ff5500" stroke="#ff5500" stroke-width="0.8"/>
<polygon points="356.7,180.8 367.6,180.7 367.8,192.7 356.9,192.9" fill="#f200ff" stroke="#f200ff" stroke-width="0.8"/>
<polygon points="367.6,180.7 378.5,180.4 378.8,192.5 367.8,192.7" fill="#ff9900" stroke="#ff9900" stroke-width="0.8"/>
<polygon points="378.5,180.4 389.4,180.2 400.4,180 400.7,192 389.7,192.3 378.8,192.5" fill="#ff5500" stroke="#ff5500" stroke-width="0.8"/>
<polygon points="400.4,180 411.3,179.7 411.6,191.7 400.7,192" fill="#ffee00" stroke="#ffee00" stroke-width="0.8"/>
<polygon points="411.3,179.7 422.2,179.4 422.5,191.4 411.6,191.7" fill="#bbff00" stroke="#bbff00" stroke-width="0.8"/>
<polygon points="422.2,179.4 433.1,179 433.5,191.1 422.5,191.4" fill="#f200ff" stroke="#f200ff" stroke-width="0.8"/>
<polygon points="433.1,179 444,178.7 444.4,190.7 433.5,191.1" fill="#bbff00" stroke="#bbff00" stroke-width="0.8"/>
<polygon points="444,178.7 454.9,178.3 465.8,177.9 466.3,190 455.3,190.4 444.4,190.7" fill="#f200ff" stroke="#f200ff" stroke-width="0.8"/>
<polygon points="465.8,177.9 476.7,177.5 477.2,189.5 466.3,190" fill="#bbff00" stroke="#bbff00" stroke-width="0.8"/>
<polygon points="476.7,177.5 491.7,176.9 506.7,176.2 507.3,188.2 492.2,188.9 477.2,189.5" fill="#00ff00" stroke="#00ff00" stroke-width="0.8"/>
<polygon points="53.3,188.2 65.9,188.8 78.5,189.3 91,189.8 103.6,190.3 116.2,190.7 115.8,202.8 103.2,202.3 90.6,201.9 78,201.4 65.4,200.8 52.8,200.3" fill="#ff2d00" stroke="#ff2d00" stroke-width="0.8"/>
<polygon points="116.2,190.7 127.1,191.1 138.1,191.4 149,191.7 159.9,192 170.9,192.3 181.8,192.5 192.8,192.7 203.7,192.9 214.6,193 225.6,193.2 236.5,193.3 247.5,193.4 247.4,205.4 236.4,205.3 225.5,205.2 214.5,205.1 203.5,204.9 192.6,204.7 181.6,204.5 170.6,204.3 159.7,204 148.7,203.8 137.7,203.5 126.8,203.1 115.8,202.8" fill="#f200ff" stroke="#f200ff" stroke-width="0.8"/>
<polygon points="247.5,193.4 258.4,193.4 258.4,205.5 247.4,205.4" fill="#ff9900" stroke="#ff9900" stroke-width="0.8"/>
<polygon points="258.4,193.4 269.4,193.5 280.3,193.5 280.3,205.5 269.3,205.5 258.4,205.5" fill="#bbff00" stroke="#bbff00" stroke-width="0.8"/>
<polygon points="280.3,193.5 291.2,193.5 302.2,193.4 302.2,205.5 291.3,205.5 280.3,205.5" fill="#ff5500" stroke="#ff5500" stroke-width="0.8"/>
<polygon points="302.2,193.4 313.1,193.4 313.2,205.4 302.2,205.5" fill="#00ff00" stroke="#00ff00" stroke-width="0.8"/>
<polygon points="313.1,193.4 324.1,193.3 324.2,205.3 313.2,205.4" fill="#ffee00" stroke="#ffee00" stroke-width="0.8"/>
<polygon points="324.1,193.3 335,193.2 346,193 346.1,205.1 335.1,205.2 324.2,205.3" fill="#bbff00" stroke="#bbff00" stroke-width="0.8"/>
<polygon points="346,193 356.9,192.9 357.1,204.9 346.1,205.1" fill="#ffee00" stroke="#ffee00" stroke-width="0.8"/>
<polygon points="356.9,192.9 367.8,192.7 378.8,192.5 379,204.5 368,204.7 357.1,204.9" fill="#f200ff" stroke="#f200ff" stroke-width="0.8"/>
<polygon points="378.8,192.5 389.7,192.3 400.7,192 400.9,204 390,204.3 379,204.5" fill="#ff5500" stroke="#ff5500" stroke-width="0.8"/>
<polygon points="400.7,192 411.6,191.7 422.5,191.4 433.5,191.1 444.4,190.7 444.8,202.8 433.8,203.1 422.9,203.5 411.9,203.8 400.9,204" fill="#00ff00" stroke="#00ff00" stroke-width="0.8"/>
<polygon points="444.4,190.7 455.3,190.4 466.3,190 477.2,189.5 477.7,201.6 466.7,202 455.8,202.4 444.8,202.8" fill="#f200ff" stroke="#f200ff" stroke-width="0.8"/>
<polygon points="477.2,189.5 488.1,189.1 488.6,201.1 477.7,201.6" fill="#00ff00" stroke="#00ff00" stroke-width="0.8"/>
<polygon points="488.1,189.1 507.3,188.2 507.8,200.3 488.6,201.1" fill="#f200ff" stroke="#f200ff" stroke-width="0.8"/>
<polygon points="52.8,200.3 72,201.1 71.4,213.1 52.2,212.3" fill="#ff2d00" stroke="#ff2d00" stroke-width="0.8"/>
<polygon points="72,201.1 82.9,201.6 93.9,202 104.8,202.4 104.4,214.4 93.4,214 82.4,213.6 71.4,213.1" fill="#f200ff" stroke="#f200ff" stroke-width="0.8"/>
<polygon points="104.8,202.4 115.8,202.8 115.4,214.8 104.4,214.4" fill="#ff2d00" stroke="#ff2d00" stroke-width="0.8"/>
<polygon points="115.8,202.8 126.8,203.1 137.7,203.5 148.7,203.8 159.7,204 170.6,204.3 181.6,204.5 192.6,204.7 203.5,204.9 203.3,217 192.3,216.8 181.3,216.6 170.4,216.3 159.4,216.1 148.4,215.8 137.4,215.5 126.4,215.2 115.4,214.8" fill="#f200ff" stroke="#f200ff" stroke-width="0.8"/>
<polygon points="203.5,204.9 214.5,205.1 225.5,205.2 225.3,217.3 214.3,217.1 203.3,217" fill="#ff2d00" stroke="#ff2d00" stroke-width="0.8"/>
<polygon points="225.5,205.2 236.4,205.3 247.4,205.4 258.4,205.5 258.3,217.5 247.3,217.5 236.3,217.4 225.3,217.3" fill="#f200ff" stroke="#f200ff" stroke-width="0.8"/>
<polygon points="258.4,205.5 269.3,205.5 269.3,217.6 258.3,217.5" fill="#ff9900" stroke="#ff9900" stroke-width="0.8"/>
<polygon points="269.3,205.5 280.3,205.5 280.3,217.6 269.3,217.6" fill="#bbff00" stroke="#bbff00" stroke-width="0.8"/>
<polygon points="280.3,205.5 291.3,205.5 291.3,217.6 280.3,217.6" fill="#ff9900" stroke="#ff9900" stroke-width="0.8"/>
<polygon points="291.3,205.5 302.2,205.5 313.2,205.4 313.3,217.5 302.3,217.5 291.3,217.6" fill="#ff5500" stroke="#ff5500" stroke-width="0.8"/>
<polygon points="313.2,205.4 324.2,205.3 335.1,205.2 335.3,217.3 324.3,217.4 313.3,217.5" fill="#ff2d00" stroke="#ff2d00" stroke-width="0.8"/>
<polygon points="335.1,205.2 346.1,205.1 357.1,204.9 368,204.7 368.3,216.8 357.3,217 346.3,217.1 335.3,217.3" fill="#ff9900" stroke="#ff9900" stroke-width="0.8"/>
<polygon points="368,204.7 379,204.5 379.3,216.6 368.3,216.8" fill="#f200ff" stroke="#f200ff" stroke-width="0.8"/>
<polygon points="379,204.5 390,204.3 390.2,216.3 379.3,216.6" fill="#ff9900" stroke="#ff9900" stroke-width="0.8"/>
<polygon points="390,204.3 400.9,204 411.9,203.8 422.9,203.5 433.8,203.1 434.2,215.2 423.2,215.5 412.2,215.8 401.2,216.1 390.2,216.3" fill="#00ff00" stroke="#00ff00" stroke-width="0.8"/>
<polygon points="433.8,203.1 444.8,202.8 455.8,202.4 466.7,202 467.2,214 456.2,214.4 445.2,214.8 434.2,215.2" fill="#f200ff" stroke="#f200ff" stroke-width="0.8"/>
<polygon points="466.7,202 480.4,201.4 494.1,200.9 507.8,200.3 508.4,212.3 494.7,212.9 480.9,213.5 467.2,214" fill="#00ff00" stroke="#00ff00" stroke-width="0.8"/>
<polygon points="52.2,212.3 71.4,213.1 70.9,225.2 51.7,224.3" fill="#00ff00" stroke="#00ff00" stroke-width="0.8"/>
<polygon points="71.4,213.1 82.4,213.6 93.4,214 93,226.1 81.9,225.6 70.9,225.2" fill="#ff2d00" stroke="#ff2d00" stroke-width="0.8"/>
<polygon points="93.4,214 104.4,214.4 104,226.5 93,226.1" fill="#f200ff" stroke="#f200ff" stroke-width="0.8"/>
<polygon points="104.4,214.4 115.4,214.8 115,226.8 104,226.5" fill="#ff2d00" stroke="#ff2d00" stroke-width="0.8"/>
<polygon points="115.4,214.8 126.4,215.2 137.4,215.5 148.4,215.8 159.4,216.1 170.4,216.3 181.3,216.6 181.1,228.6 170.1,228.4 159.1,228.1 148,227.8 137,227.5 126,227.2 115,226.8" fill="#f200ff" stroke="#f200ff" stroke-width="0.8"/>
<polygon points="181.3,216.6 192.3,216.8 192.1,228.8 181.1,228.6" fill="#ff2d00" stroke="#ff2d00" stroke-width="0.8"/>
<polygon points="192.3,216.8 203.3,217 203.1,229 192.1,228.8" fill="#f200ff" stroke="#f200ff" stroke-width="0.8"/>
<polygon points="203.3,217 214.3,217.1 225.3,217.3 236.3,217.4 236.2,229.4 225.2,229.3 214.2,229.2 203.1,229" fill="#ff2d00" stroke="#ff2d00" stroke-width="0.8"/>
<polygon points="236.3,217.4 247.3,217.5 247.2,229.5 236.2,229.4" fill="#f200ff" stroke="#f200ff" stroke-width="0.8"/>
<polygon points="247.3,217.5 258.3,217.5 258.3,229.6 247.2,229.5" fill="#ff2d00" stroke="#ff2d00" stroke-width="0.8"/>
<polygon points="258.3,217.5 269.3,217.6 280.3,217.6 280.3,229.6 269.3,229.6 258.3,229.6" fill="#ffee00" stroke="#ffee00" stroke-width="0.8"/>
<polygon points="280.3,217.6 291.3,217.6 302.3,217.5 313.3,217.5 313.4,229.5 302.3,229.6 291.3,229.6 280.3,229.6" fill="#ff5500" stroke="#ff5500" stroke-width="0.8"/>
<polygon points="313.3,217.5 324.3,217.4 335.3,217.3 335.4,229.3 324.4,229.4 313.4,229.5" fill="#ff2d00" stroke="#ff2d00" stroke-width="0.8"/>
<polygon points="335.3,217.3 346.3,217.1 357.3,217 357.5,229 346.4,229.2 335.4,229.3" fill="#ff5500" stroke="#ff5500" stroke-width="0.8"/>
<polygon points="357.3,217 368.3,216.8 379.3,216.6 379.5,228.6 368.5,228.8 357.5,229" fill="#ff9900" stroke="#ff9900" stroke-width="0.8"/>
<polygon points="379.3,216.6 390.2,216.3 390.5,228.4 379.5,228.6" fill="#ffee00" stroke="#ffee00" stroke-width="0.8"/>
<polygon points="390.2,216.3 401.2,216.1 412.2,215.8 412.6,227.8 401.5,228.1 390.5,228.4" fill="#bbff00" stroke="#bbff00" stroke-width="0.8"/>
<polygon points="412.2,215.8 423.2,215.5 423.6,227.5 412.6,227.8" fill="#ff9900" stroke="#ff9900" stroke-width="0.8"/>
<polygon points="423.2,215.5 434.2,215.2 434.6,227.2 423.6,227.5" fill="#bbff00" stroke="#bbff00" stroke-width="0.8"/>
<polygon points="434.2,215.2 445.2,214.8 456.2,214.4 467.2,214 467.6,226.1 456.6,226.5 445.6,226.8 434.6,227.2" fill="#f200ff" stroke="#f200ff" stroke-width="0.8"/>
<polygon points="467.2,214 480.9,213.5 494.7,212.9 508.4,212.3 508.9,224.3 495.2,224.9 481.4,225.5 467.6,226.1" fill="#00ff00" stroke="#00ff00" stroke-width="0.8"/>
<polygon points="51.7,224.3 70.9,225.2 70.4,237.2 51.1,236.3" fill="#00ff00" stroke="#00ff00" stroke-width="0.8"/>
<polygon points="70.9,225.2 81.9,225.6 81.5,237.7 70.4,237.2" fill="#ffee00" stroke="#ffee00" stroke-width="0.8"/>
<polygon points="81.9,225.6 93,226.1 92.5,238.1 81.5,237.7" fill="#ff2d00" stroke="#ff2d00" stroke-width="0.8"/>
<polygon points="93,226.1 104,226.5 115,226.8 114.6,238.9 103.5,238.5 92.5,238.1" fill="#00ff00" stroke="#00ff00" stroke-width="0.8"/>
<polygon points="115,226.8 126,227.2 137,227.5 148,227.8 147.7,239.9 136.7,239.6 125.6,239.2 114.6,238.9" fill="#f200ff" stroke="#f200ff" stroke-width="0.8"/>
<polygon points="148,227.8 159.1,228.1 158.8,240.2 147.7,239.9" fill="#ffee00" stroke="#ffee00" stroke-width="0.8"/>
<polygon points="159.1,228.1 170.1,228.4 169.8,240.4 158.8,240.2" fill="#f200ff" stroke="#f200ff" stroke-width="0.8"/>
<polygon points="170.1,228.4 181.1,228.6 180.9,240.7 169.8,240.4" fill="#ff2d00" stroke="#ff2d00" stroke-width="0.8"/>
<polygon points="181.1,228.6 192.1,228.8 191.9,240.9 180.9,240.7" fill="#f200ff" stroke="#f200ff" stroke-width="0.8"/>
<polygon points="192.1,228.8 203.1,229 214.2,229.2 225.2,229.3 236.2,229.4 247.2,229.5 258.3,229.6 258.2,241.6 247.2,241.5 236.1,241.5 225.1,241.3 214,241.2 203,241 191.9,240.9" fill="#ff2d00" stroke="#ff2d00" stroke-width="0.8"/>
<polygon points="258.3,229.6 269.3,229.6 269.3,241.6 258.2,241.6" fill="#ff5500" stroke="#ff5500" stroke-width="0.8"/>
<polygon points="269.3,229.6 280.3,229.6 280.3,241.6 269.3,241.6" fill="#ff9900" stroke="#ff9900" stroke-width="0.8"/>
<polygon points="280.3,229.6 291.3,229.6 302.3,229.6 313.4,229.5 324.4,229.4 324.5,241.5 313.4,241.5 302.4,241.6 291.3,241.6 280.3,241.6" fill="#ff5500" stroke="#ff5500" stroke-width="0.8"/>
<polygon points="324.4,229.4 335.4,229.3 335.5,241.3 324.5,241.5" fill="#ff2d00" stroke="#ff2d00" stroke-width="0.8"/>
<polygon points="335.4,229.3 346.4,229.2 346.6,241.2 335.5,241.3" fill="#ff5500" stroke="#ff5500" stroke-width="0.8"/>
<polygon points="346.4,229.2 357.5,229 357.6,241 346.6,241.2" fill="#ffee00" stroke="#ffee00" stroke-width="0.8"/>
<polygon points="357.5,229 368.5,228.8 379.5,228.6 390.5,228.4 390.8,240.4 379.7,240.7 368.7,240.9 357.6,241" fill="#ff9900" stroke="#ff9900" stroke-width="0.8"/>
<polygon points="390.5,228.4 401.5,228.1 401.8,240.2 390.8,240.4" fill="#00ff00" stroke="#00ff00" stroke-width="0.8"/>
<polygon points="401.5,228.1 412.6,227.8 412.9,239.9 401.8,240.2" fill="#bbff00" stroke="#bbff00" stroke-width="0.8"/>
<polygon points="412.6,227.8 423.6,227.5 423.9,239.6 412.9,239.9" fill="#ff5500" stroke="#ff5500" stroke-width="0.8"/>
<polygon points="423.6,227.5 434.6,227.2 445.6,226.8 446,238.9 435,239.2 423.9,239.6" fill="#bbff00" stroke="#bbff00" stroke-width="0.8"/>
<polygon points="445.6,226.8 456.6,226.5 467.6,226.1 478.7,225.6 479.1,237.7 468.1,238.1 457.1,238.5 446,238.9" fill="#f200ff" stroke="#f200ff" stroke-width="0.8"/>
<polygon points="478.7,225.6 489.7,225.2 490.2,237.2 479.1,237.7" fill="#00ff00" stroke="#00ff00" stroke-width="0.8"/>
<polygon points="489.7,225.2 508.9,224.3 509.5,236.3 490.2,237.2" fill="#f200ff" stroke="#f200ff" stroke-width="0.8"/>
<polygon points="51.1,236.3 70.4,237.2 69.9,249.2 50.5,248.4" fill="#ff2d00" stroke="#ff2d00" stroke-width="0.8"/>
<polygon points="70.4,237.2 81.5,237.7 81,249.7 69.9,249.2" fill="#ffee00" stroke="#ffee00" stroke-width="0.8"/>
<polygon points="81.5,237.7 92.5,238.1 92,250.1 81,249.7" fill="#ff2d00" stroke="#ff2d00" stroke-width="0.8"/>
<polygon points="92.5,238.1 103.5,238.5 114.6,238.9 125.6,239.2 125.3,251.3 114.2,250.9 103.1,250.5 92,250.1" fill="#00ff00" stroke="#00ff00" stroke-width="0.8"/>
<polygon points="125.6,239.2 136.7,239.6 147.7,239.9 158.8,240.2 169.8,240.4 169.5,252.5 158.5,252.2 147.4,251.9 136.3,251.6 125.3,251.3" fill="#f200ff" stroke="#f200ff" stroke-width="0.8"/>
<polygon points="169.8,240.4 180.9,240.7 180.6,252.7 169.5,252.5" fill="#ff2d00" stroke="#ff2d00" stroke-width="0.8"/>
<polygon points="180.9,240.7 191.9,240.9 191.7,252.9 180.6,252.7" fill="#f200ff" stroke="#f200ff" stroke-width="0.8"/>
<polygon points="191.9,240.9 203,241 202.8,253.1 191.7,252.9" fill="#ff2d00" stroke="#ff2d00" stroke-width="0.8"/>
<polygon points="203,241 214,241.2 213.8,253.2 202.8,253.1" fill="#f200ff" stroke="#f200ff" stroke-width="0.8"/>
<polygon points="214,241.2 225.1,241.3 236.1,241.5 247.2,241.5 258.2,241.6 258.1,253.6 247.1,253.6 236,253.5 224.9,253.4 213.8,253.2" fill="#ff2d00" stroke="#ff2d00" stroke-width="0.8"/>
<polygon points="258.2,241.6 269.3,241.6 280.3,241.6 291.3,241.6 302.4,241.6 313.4,241.5 324.5,241.5 324.6,253.5 313.5,253.6 302.5,253.6 291.4,253.7 280.3,253.7 269.2,253.7 258.1,253.6" fill="#ff5500" stroke="#ff5500" stroke-width="0.8"/>
<polygon points="324.5,241.5 335.5,241.3 335.7,253.4 324.6,253.5" fill="#ff2d00" stroke="#ff2d00" stroke-width="0.8"/>
<polygon points="335.5,241.3 346.6,241.2 346.8,253.2 335.7,253.4" fill="#ff5500" stroke="#ff5500" stroke-width="0.8"/>
<polygon points="346.6,241.2 357.6,241 368.7,240.9 379.7,240.7 390.8,240.4 391.1,252.5 380,252.7 368.9,252.9 357.8,253.1 346.8,253.2" fill="#ff9900" stroke="#ff9900" stroke-width="0.8"/>
<polygon points="390.8,240.4 401.8,240.2 412.9,239.9 423.9,239.6 424.3,251.6 413.2,251.9 402.1,252.2 391.1,252.5" fill="#bbff00" stroke="#bbff00" stroke-width="0.8"/>
<polygon points="423.9,239.6 435,239.2 446,238.9 446.4,250.9 435.3,251.3 424.3,251.6" fill="#ffee00" stroke="#ffee00" stroke-width="0.8"/>
<polygon points="446,238.9 457.1,238.5 457.5,250.5 446.4,250.9" fill="#bbff00" stroke="#bbff00" stroke-width="0.8"/>
<polygon points="457.1,238.5 470.2,238 483.3,237.5 496.4,236.9 509.5,236.3 510.1,248.4 496.9,249 483.8,249.5 470.6,250 457.5,250.5" fill="#f200ff" stroke="#f200ff" stroke-width="0.8"/>
<polygon points="50.5,248.4 69.9,249.2 69.4,261.3 50,260.4" fill="#ff2d00" stroke="#ff2d00" stroke-width="0.8"/>
<polygon points="69.9,249.2 81,249.7 80.5,261.7 69.4,261.3" fill="#bbff00" stroke="#bbff00" stroke-width="0.8"/>
<polygon points="81,249.7 92,250.1 103.1,250.5 114.2,250.9 113.8,263 102.7,262.6 91.6,262.2 80.5,261.7" fill="#f200ff" stroke="#f200ff" stroke-width="0.8"/>
<polygon points="114.2,250.9 125.3,251.3 136.3,251.6 136,263.6 124.9,263.3 113.8,263" fill="#00ff00" stroke="#00ff00" stroke-width="0.8"/>
<polygon points="136.3,251.6 147.4,251.9 147.1,264 136,263.6" fill="#f200ff" stroke="#f200ff" stroke-width="0.8"/>
<polygon points="147.4,251.9 158.5,252.2 169.5,252.5 180.6,252.7 191.7,252.9 191.5,264.9 180.4,264.7 169.3,264.5 158.2,264.2 147.1,264" fill="#ff2d00" stroke="#ff2d00" stroke-width="0.8"/>
<polygon points="191.7,252.9 202.8,253.1 202.6,265.1 191.5,264.9" fill="#f200ff" stroke="#f200ff" stroke-width="0.8"/>
<polygon points="202.8,253.1 213.8,253.2 224.9,253.4 224.8,265.4 213.7,265.3 202.6,265.1" fill="#ff2d00" stroke="#ff2d00" stroke-width="0.8"/>
<polygon points="224.9,253.4 236,253.5 235.9,265.5 224.8,265.4" fill="#ffee00" stroke="#ffee00" stroke-width="0.8"/>
<polygon points="236,253.5 247.1,253.6 247,265.6 235.9,265.5" fill="#ff2d00" stroke="#ff2d00" stroke-width="0.8"/>
<polygon points="247.1,253.6 258.1,253.6 258.1,265.7 247,265.6" fill="#f200ff" stroke="#f200ff" stroke-width="0.8"/>
<polygon points="258.1,253.6 269.2,253.7 280.3,253.7 291.4,253.7 302.5,253.6 313.5,253.6 313.6,265.6 302.5,265.7 291.4,265.7 280.3,265.7 269.2,265.7 258.1,265.7" fill="#ff5500" stroke="#ff5500" stroke-width="0.8"/>
<polygon points="313.5,253.6 324.6,253.5 324.7,265.5 313.6,265.6" fill="#ff2d00" stroke="#ff2d00" stroke-width="0.8"/>
<polygon points="324.6,253.5 335.7,253.4 335.8,265.4 324.7,265.5" fill="#ff5500" stroke="#ff5500" stroke-width="0.8"/>
<polygon points="335.7,253.4 346.8,253.2 357.8,253.1 358,265.1 346.9,265.3 335.8,265.4" fill="#ff9900" stroke="#ff9900" stroke-width="0.8"/>
<polygon points="357.8,253.1 368.9,252.9 369.1,264.9 358,265.1" fill="#ff5500" stroke="#ff5500" stroke-width="0.8"/>
<polygon points="368.9,252.9 380,252.7 380.2,264.7 369.1,264.9" fill="#f200ff" stroke="#f200ff" stroke-width="0.8"/>
<polygon points="380,252.7 391.1,252.5 391.3,264.5 380.2,264.7" fill="#ff9900" stroke="#ff9900" stroke-width="0.8"/>
<polygon points="391.1,252.5 402.1,252.2 402.4,264.2 391.3,264.5" fill="#ff5500" stroke="#ff5500" stroke-width="0.8"/>
<polygon points="402.1,252.2 413.2,251.9 413.5,264 402.4,264.2" fill="#ff2d00" stroke="#ff2d00" stroke-width="0.8"/>
<polygon points="413.2,251.9 424.3,251.6 424.6,263.6 413.5,264" fill="#f200ff" stroke="#f200ff" stroke-width="0.8"/>
<polygon points="424.3,251.6 435.3,251.3 446.4,250.9 446.8,263 435.7,263.3 424.6,263.6" fill="#ff5500" stroke="#ff5500" stroke-width="0.8"/>
<polygon points="446.4,250.9 457.5,250.5 457.9,262.6 446.8,263" fill="#f200ff" stroke="#f200ff" stroke-width="0.8"/>
<polygon points="457.5,250.5 468.6,250.1 479.6,249.7 480.1,261.7 469,262.2 457.9,262.6" fill="#ffee00" stroke="#ffee00" stroke-width="0.8"/>
<polygon points="479.6,249.7 494.8,249.1 510.1,248.4 510.6,260.4 495.4,261.1 480.1,261.7" fill="#f200ff" stroke="#f200ff" stroke-width="0.8"/>
<polygon points="50,260.4 69.4,261.3 68.9,273.3 49.4,272.4" fill="#ff2d00" stroke="#ff2d00" stroke-width="0.8"/>
<polygon points="69.4,261.3 80.5,261.7 80,273.8 68.9,273.3" fill="#ffee00" stroke="#ffee00" stroke-width="0.8"/>
<polygon points="80.5,261.7 91.6,262.2 102.7,262.6 113.8,263 124.9,263.3 136,263.6 147.1,264 146.8,276 135.6,275.7 124.5,275.3 113.4,275 102.3,274.6 91.1,274.2 80,273.8" fill="#00ff00" stroke="#00ff00" stroke-width="0.8"/>
<polygon points="147.1,264 158.2,264.2 169.3,264.5 180.4,264.7 191.5,264.9 202.6,265.1 213.7,265.3 224.8,265.4 224.7,277.5 213.5,277.3 202.4,277.2 191.3,277 180.1,276.8 169,276.5 157.9,276.3 146.8,276" fill="#ff2d00" stroke="#ff2d00" stroke-width="0.8"/>
<polygon points="224.8,265.4 235.9,265.5 235.8,277.6 224.7,277.5" fill="#ffee00" stroke="#ffee00" stroke-width="0.8"/>
<polygon points="235.9,265.5 247,265.6 246.9,277.7 235.8,277.6" fill="#ff2d00" stroke="#ff2d00" stroke-width="0.8"/>
<polygon points="247,265.6 258.1,265.7 258,277.7 246.9,277.7" fill="#f200ff" stroke="#f200ff" stroke-width="0.8"/>
<polygon points="258.1,265.7 269.2,265.7 280.3,265.7 291.4,265.7 302.5,265.7 313.6,265.6 313.7,277.7 302.6,277.7 291.4,277.8 280.3,277.8 269.2,277.8 258,277.7" fill="#ff5500" stroke="#ff5500" stroke-width="0.8"/>
<polygon points="313.6,265.6 324.7,265.5 324.8,277.6 313.7,277.7" fill="#ff2d00" stroke="#ff2d00" stroke-width="0.8"/>
<polygon points="324.7,265.5 335.8,265.4 335.9,277.5 324.8,277.6" fill="#ff5500" stroke="#ff5500" stroke-width="0.8"/>
<polygon points="335.8,265.4 346.9,265.3 358,265.1 358.2,277.2 347.1,277.3 335.9,277.5" fill="#ff9900" stroke="#ff9900" stroke-width="0.8"/>
<polygon points="358,265.1 369.1,264.9 369.3,277 358.2,277.2" fill="#ff5500" stroke="#ff5500" stroke-width="0.8"/>
<polygon points="369.1,264.9 380.2,264.7 391.3,264.5 402.4,264.2 413.5,264 424.6,263.6 425,275.7 413.8,276 402.7,276.3 391.6,276.5 380.5,276.8 369.3,277" fill="#f200ff" stroke="#f200ff" stroke-width="0.8"/>
<polygon points="424.6,263.6 435.7,263.3 446.8,263 457.9,262.6 458.3,274.6 447.2,275 436.1,275.3 425,275.7" fill="#ff5500" stroke="#ff5500" stroke-width="0.8"/>
<polygon points="457.9,262.6 469,262.2 469.5,274.2 458.3,274.6" fill="#ff9900" stroke="#ff9900" stroke-width="0.8"/>
<polygon points="469,262.2 480.1,261.7 480.6,273.8 469.5,274.2" fill="#ffee00" stroke="#ffee00" stroke-width="0.8"/>
<polygon points="480.1,261.7 491.2,261.3 491.7,273.3 480.6,273.8" fill="#ff9900" stroke="#ff9900" stroke-width="0.8"/>
<polygon points="491.2,261.3 510.6,260.4 511.2,272.4 491.7,273.3" fill="#f200ff" stroke="#f200ff" stroke-width="0.8"/>
<polygon points="49.4,272.4 68.9,273.3 68.4,285.3 48.9,284.5" fill="#ff2d00" stroke="#ff2d00" stroke-width="0.8"/>
<polygon points="68.9,273.3 80,273.8 79.5,285.8 68.4,285.3" fill="#00ff00" stroke="#00ff00" stroke-width="0.8"/>
<polygon points="80,273.8 91.1,274.2 102.3,274.6 101.8,286.6 90.7,286.2 79.5,285.8" fill="#ff5500" stroke="#ff5500" stroke-width="0.8"/>
<polygon points="102.3,274.6 113.4,275 124.5,275.3 135.6,275.7 146.8,276 157.9,276.3 169,276.5 168.7,288.6 157.6,288.3 146.4,288 135.3,287.7 124.1,287.4 113,287 101.8,286.6" fill="#00ff00" stroke="#00ff00" stroke-width="0.8"/>
<polygon points="169,276.5 180.1,276.8 179.9,288.8 168.7,288.6" fill="#bbff00" stroke="#bbff00" stroke-width="0.8"/>
<polygon points="180.1,276.8 191.3,277 202.4,277.2 202.2,289.2 191,289 179.9,288.8" fill="#ff2d00" stroke="#ff2d00" stroke-width="0.8"/>
<polygon points="202.4,277.2 213.5,277.3 224.7,277.5 224.5,289.5 213.4,289.4 202.2,289.2" fill="#f200ff" stroke="#f200ff" stroke-width="0.8"/>
<polygon points="224.7,277.5 235.8,277.6 235.7,289.6 224.5,289.5" fill="#ffee00" stroke="#ffee00" stroke-width="0.8"/>
<polygon points="235.8,277.6 246.9,277.7 246.8,289.7 235.7,289.6" fill="#f200ff" stroke="#f200ff" stroke-width="0.8"/>
<polygon points="246.9,277.7 258,277.7 269.2,277.8 280.3,277.8 280.3,289.8 269.1,289.8 258,289.8 246.8,289.7" fill="#ff5500" stroke="#ff5500" stroke-width="0.8"/>
<polygon points="280.3,277.8 291.4,277.8 291.5,289.8 280.3,289.8" fill="#00ff00" stroke="#00ff00" stroke-width="0.8"/>
<polygon points="291.4,277.8 302.6,277.7 302.6,289.8 291.5,289.8" fill="#ff5500" stroke="#ff5500" stroke-width="0.8"/>
<polygon points="302.6,277.7 313.7,277.7 324.8,277.6 335.9,277.5 336.1,289.5 324.9,289.6 313.8,289.7 302.6,289.8" fill="#ff9900" stroke="#ff9900" stroke-width="0.8"/>
<polygon points="335.9,277.5 347.1,277.3 347.2,289.4 336.1,289.5" fill="#ff2d00" stroke="#ff2d00" stroke-width="0.8"/>
<polygon points="347.1,277.3 358.2,277.2 358.4,289.2 347.2,289.4" fill="#ff9900" stroke="#ff9900" stroke-width="0.8"/>
<polygon points="358.2,277.2 369.3,277 369.6,289 358.4,289.2" fill="#ff2d00" stroke="#ff2d00" stroke-width="0.8"/>
<polygon points="369.3,277 380.5,276.8 391.6,276.5 402.7,276.3 413.8,276 425,275.7 436.1,275.3 447.2,275 458.3,274.6 458.8,286.6 447.6,287 436.5,287.4 425.3,287.7 414.2,288 403,288.3 391.9,288.6 380.7,288.8 369.6,289" fill="#f200ff" stroke="#f200ff" stroke-width="0.8"/>
<polygon points="458.3,274.6 469.5,274.2 480.6,273.8 481.1,285.8 469.9,286.2 458.8,286.6" fill="#ff2d00" stroke="#ff2d00" stroke-width="0.8"/>
<polygon points="480.6,273.8 495.9,273.1 511.2,272.4 511.7,284.5 496.4,285.2 481.1,285.8" fill="#ff5500" stroke="#ff5500" stroke-width="0.8"/>
<polygon points="48.9,284.5 68.4,285.3 67.9,297.4 48.3,296.5" fill="#ff9900" stroke="#ff9900" stroke-width="0.8"/>
<polygon points="68.4,285.3 79.5,285.8 79,297.8 67.9,297.4" fill="#ff2d00" stroke="#ff2d00" stroke-width="0.8"/>
<polygon points="79.5,285.8 90.7,286.2 90.2,298.3 79,297.8" fill="#ffee00" stroke="#ffee00" stroke-width="0.8"/>
<polygon points="90.7,286.2 101.8,286.6 101.4,298.7 90.2,298.3" fill="#ff9900" stroke="#ff9900" stroke-width="0.8"/>
<polygon points="101.8,286.6 113,287 124.1,287.4 135.3,287.7 146.4,288 157.6,288.3 168.7,288.6 179.9,288.8 191,289 202.2,289.2 202,301.3 190.8,301.1 179.7,300.9 168.5,300.6 157.3,300.4 146.1,300.1 134.9,299.8 123.8,299.4 112.6,299.1 101.4,298.7" fill="#00ff00" stroke="#00ff00" stroke-width="0.8"/>
<polygon points="202.2,289.2 213.4,289.4 213.2,301.4 202,301.3" fill="#f200ff" stroke="#f200ff" stroke-width="0.8"/>
<polygon points="213.4,289.4 224.5,289.5 235.7,289.6 235.6,301.7 224.4,301.6 213.2,301.4" fill="#ff9900" stroke="#ff9900" stroke-width="0.8"/>
<polygon points="235.7,289.6 246.8,289.7 246.7,301.8 235.6,301.7" fill="#00ff00" stroke="#00ff00" stroke-width="0.8"/>
<polygon points="246.8,289.7 258,289.8 269.1,289.8 269.1,301.9 257.9,301.8 246.7,301.8" fill="#ff5500" stroke="#ff5500" stroke-width="0.8"/>
<polygon points="269.1,289.8 280.3,289.8 280.3,301.9 269.1,301.9" fill="#ff9900" stroke="#ff9900" stroke-width="0.8"/>
<polygon points="280.3,289.8 291.5,289.8 302.6,289.8 302.7,301.8 291.5,301.9 280.3,301.9" fill="#00ff00" stroke="#00ff00" stroke-width="0.8"/>
<polygon points="302.6,289.8 313.8,289.7 324.9,289.6 325,301.7 313.9,301.8 302.7,301.8" fill="#ff9900" stroke="#ff9900" stroke-width="0.8"/>
<polygon points="324.9,289.6 336.1,289.5 347.2,289.4 347.4,301.4 336.2,301.6 325,301.7" fill="#ff5500" stroke="#ff5500" stroke-width="0.8"/>
<polygon points="347.2,289.4 358.4,289.2 358.6,301.3 347.4,301.4" fill="#ff2d00" stroke="#ff2d00" stroke-width="0.8"/>
<polygon points="358.4,289.2 369.6,289 380.7,288.8 391.9,288.6 403,288.3 403.3,300.4 392.1,300.6 380.9,300.9 369.8,301.1 358.6,301.3" fill="#f200ff" stroke="#f200ff" stroke-width="0.8"/>
<polygon points="403,288.3 414.2,288 414.5,300.1 403.3,300.4" fill="#ff2d00" stroke="#ff2d00" stroke-width="0.8"/>
<polygon points="414.2,288 425.3,287.7 425.7,299.8 414.5,300.1" fill="#f200ff" stroke="#f200ff" stroke-width="0.8"/>
<polygon points="425.3,287.7 436.5,287.4 436.8,299.4 425.7,299.8" fill="#ff2d00" stroke="#ff2d00" stroke-width="0.8"/>
<polygon points="436.5,287.4 447.6,287 458.8,286.6 469.9,286.2 481.1,285.8 481.6,297.8 470.4,298.3 459.2,298.7 448,299.1 436.8,299.4" fill="#f200ff" stroke="#f200ff" stroke-width="0.8"/>
<polygon points="481.1,285.8 496.4,285.2 511.7,284.5 512.3,296.5 496.9,297.2 481.6,297.8" fill="#ff5500" stroke="#ff5500" stroke-width="0.8"/>
<polygon points="48.3,296.5 67.9,297.4 67.4,309.4 47.8,308.5" fill="#ffee00" stroke="#ffee00" stroke-width="0.8"/>
<polygon points="67.9,297.4 79,297.8 78.6,309.9 67.4,309.4" fill="#ff2d00" stroke="#ff2d00" stroke-width="0.8"/>
<polygon points="79,297.8 90.2,298.3 89.8,310.3 78.6,309.9" fill="#ffee00" stroke="#ffee00" stroke-width="0.8"/>
<polygon points="90.2,298.3 101.4,298.7 101,310.7 89.8,310.3" fill="#ff2d00" stroke="#ff2d00" stroke-width="0.8"/>
<polygon points="101.4,298.7 112.6,299.1 112.2,311.1 101,310.7" fill="#ff9900" stroke="#ff9900" stroke-width="0.8"/>
<polygon points="112.6,299.1 123.8,299.4 134.9,299.8 146.1,300.1 157.3,300.4 168.5,300.6 179.7,300.9 190.8,301.1 202,301.3 213.2,301.4 224.4,301.6 235.6,301.7 246.7,301.8 246.7,313.8 235.5,313.7 224.2,313.6 213,313.5 201.8,313.3 190.6,313.1 179.4,312.9 168.2,312.7 157,312.4 145.8,312.1 134.6,311.8 123.4,311.5 112.2,311.1" fill="#00ff00" stroke="#00ff00" stroke-width="0.8"/>
<polygon points="246.7,301.8 257.9,301.8 257.9,313.9 246.7,313.8" fill="#ff9900" stroke="#ff9900" stroke-width="0.8"/>
<polygon points="257.9,301.8 269.1,301.9 269.1,313.9 257.9,313.9" fill="#ff5500" stroke="#ff5500" stroke-width="0.8"/>
<polygon points="269.1,301.9 280.3,301.9 280.3,313.9 269.1,313.9" fill="#ff9900" stroke="#ff9900" stroke-width="0.8"/>
<polygon points="280.3,301.9 291.5,301.9 302.7,301.8 313.9,301.8 325,301.7 336.2,301.6 347.4,301.4 358.6,301.3 358.8,313.3 347.6,313.5 336.4,313.6 325.1,313.7 313.9,313.8 302.7,313.9 291.5,313.9 280.3,313.9" fill="#00ff00" stroke="#00ff00" stroke-width="0.8"/>
<polygon points="358.6,301.3 369.8,301.1 370,313.1 358.8,313.3" fill="#ff2d00" stroke="#ff2d00" stroke-width="0.8"/>
<polygon points="369.8,301.1 380.9,300.9 392.1,300.6 392.4,312.7 381.2,312.9 370,313.1" fill="#00ff00" stroke="#00ff00" stroke-width="0.8"/>
<polygon points="392.1,300.6 403.3,300.4 414.5,300.1 414.8,312.1 403.6,312.4 392.4,312.7" fill="#f200ff" stroke="#f200ff" stroke-width="0.8"/>
<polygon points="414.5,300.1 425.7,299.8 426,311.8 414.8,312.1" fill="#ff2d00" stroke="#ff2d00" stroke-width="0.8"/>
<polygon points="425.7,299.8 436.8,299.4 448,299.1 448.4,311.1 437.2,311.5 426,311.8" fill="#f200ff" stroke="#f200ff" stroke-width="0.8"/>
<polygon points="448,299.1 459.2,298.7 459.6,310.7 448.4,311.1" fill="#ff2d00" stroke="#ff2d00" stroke-width="0.8"/>
<polygon points="459.2,298.7 470.4,298.3 481.6,297.8 482,309.9 470.8,310.3 459.6,310.7" fill="#f200ff" stroke="#f200ff" stroke-width="0.8"/>
<polygon points="481.6,297.8 496.9,297.2 512.3,296.5 512.8,308.5 497.4,309.2 482,309.9" fill="#ff5500" stroke="#ff5500" stroke-width="0.8"/>
<polygon points="47.8,308.5 67.4,309.4 66.9,321.4 47.2,320.6" fill="#ff9900" stroke="#ff9900" stroke-width="0.8"/>
<polygon points="67.4,309.4 78.6,309.9 89.8,310.3 89.3,322.3 78.1,321.9 66.9,321.4" fill="#ff2d00" stroke="#ff2d00" stroke-width="0.8"/>
<polygon points="89.8,310.3 101,310.7 100.5,322.7 89.3,322.3" fill="#f200ff" stroke="#f200ff" stroke-width="0.8"/>
<polygon points="101,310.7 112.2,311.1 111.8,323.1 100.5,322.7" fill="#ffee00" stroke="#ffee00" stroke-width="0.8"/>
<polygon points="112.2,311.1 123.4,311.5 123,323.5 111.8,323.1" fill="#f200ff" stroke="#f200ff" stroke-width="0.8"/>
<polygon points="123.4,311.5 134.6,311.8 145.8,312.1 157,312.4 168.2,312.7 179.4,312.9 190.6,313.1 201.8,313.3 213,313.5 224.2,313.6 224.1,325.6 212.9,325.5 201.6,325.3 190.4,325.2 179.2,324.9 167.9,324.7 156.7,324.4 145.5,324.2 134.2,323.8 123,323.5" fill="#00ff00" stroke="#00ff00" stroke-width="0.8"/>
<polygon points="224.2,313.6 235.5,313.7 235.4,325.8 224.1,325.6" fill="#ff9900" stroke="#ff9900" stroke-width="0.8"/>
<polygon points="235.5,313.7 246.7,313.8 257.9,313.9 269.1,313.9 280.3,313.9 291.5,313.9 302.7,313.9 313.9,313.8 325.1,313.7 336.4,313.6 347.6,313.5 358.8,313.3 370,313.1 381.2,312.9 392.4,312.7 392.7,324.7 381.4,324.9 370.2,325.2 359,325.3 347.7,325.5 336.5,325.6 325.2,325.8 314,325.8 302.8,325.9 291.5,325.9 280.3,326 269.1,325.9 257.8,325.9 246.6,325.8 235.4,325.8" fill="#00ff00" stroke="#00ff00" stroke-width="0.8"/>
<polygon points="392.4,312.7 403.6,312.4 403.9,324.4 392.7,324.7" fill="#ff2d00" stroke="#ff2d00" stroke-width="0.8"/>
<polygon points="403.6,312.4 414.8,312.1 415.1,324.2 403.9,324.4" fill="#bbff00" stroke="#bbff00" stroke-width="0.8"/>
<polygon points="414.8,312.1 426,311.8 437.2,311.5 437.6,323.5 426.4,323.8 415.1,324.2" fill="#f200ff" stroke="#f200ff" stroke-width="0.8"/>
<polygon points="437.2,311.5 448.4,311.1 459.6,310.7 460.1,322.7 448.8,323.1 437.6,323.5" fill="#ff2d00" stroke="#ff2d00" stroke-width="0.8"/>
<polygon points="459.6,310.7 470.8,310.3 471.3,322.3 460.1,322.7" fill="#f200ff" stroke="#f200ff" stroke-width="0.8"/>
<polygon points="470.8,310.3 482,309.9 482.5,321.9 471.3,322.3" fill="#ff5500" stroke="#ff5500" stroke-width="0.8"/>
<polygon points="482,309.9 493.2,309.4 493.7,321.4 482.5,321.9" fill="#ffee00" stroke="#ffee00" stroke-width="0.8"/>
<polygon points="493.2,309.4 512.8,308.5 513.4,320.6 493.7,321.4" fill="#ff5500" stroke="#ff5500" stroke-width="0.8"/>
<polygon points="47.2,320.6 66.9,321.4 66.3,333.5 46.6,332.6" fill="#ffee00" stroke="#ffee00" stroke-width="0.8"/>
<polygon points="66.9,321.4 78.1,321.9 77.6,333.9 66.3,333.5" fill="#00ff00" stroke="#00ff00" stroke-width="0.8"/>
<polygon points="78.1,321.9 89.3,322.3 100.5,322.7 111.8,323.1 123,323.5 122.6,335.5 111.4,335.2 100.1,334.8 88.9,334.4 77.6,333.9" fill="#f200ff" stroke="#f200ff" stroke-width="0.8"/>
<polygon points="123,323.5 134.2,323.8 133.9,335.9 122.6,335.5" fill="#ffee00" stroke="#ffee00" stroke-width="0.8"/>
<polygon points="134.2,323.8 145.5,324.2 156.7,324.4 167.9,324.7 179.2,324.9 190.4,325.2 201.6,325.3 212.9,325.5 224.1,325.6 235.4,325.8 246.6,325.8 257.8,325.9 269.1,325.9 280.3,326 291.5,325.9 302.8,325.9 314,325.8 325.2,325.8 336.5,325.6 347.7,325.5 359,325.3 359.1,337.4 347.9,337.5 336.6,337.7 325.4,337.8 314.1,337.9 302.8,337.9 291.6,338 280.3,338 269,338 257.8,337.9 246.5,337.9 235.2,337.8 224,337.7 212.7,337.5 201.5,337.4 190.2,337.2 178.9,337 167.7,336.7 156.4,336.5 145.1,336.2 133.9,335.9" fill="#00ff00" stroke="#00ff00" stroke-width="0.8"/>
<polygon points="359,325.3 370.2,325.2 370.4,337.2 359.1,337.4" fill="#00ff66" stroke="#00ff66" stroke-width="0.8"/>
<polygon points="370.2,325.2 381.4,324.9 381.7,337 370.4,337.2" fill="#00ff00" stroke="#00ff00" stroke-width="0.8"/>
<polygon points="381.4,324.9 392.7,324.7 392.9,336.7 381.7,337" fill="#ff5500" stroke="#ff5500" stroke-width="0.8"/>
<polygon points="392.7,324.7 403.9,324.4 404.2,336.5 392.9,336.7" fill="#ff2d00" stroke="#ff2d00" stroke-width="0.8"/>
<polygon points="403.9,324.4 415.1,324.2 415.5,336.2 404.2,336.5" fill="#00ff00" stroke="#00ff00" stroke-width="0.8"/>
<polygon points="415.1,324.2 426.4,323.8 437.6,323.5 438,335.5 426.7,335.9 415.5,336.2" fill="#ff5500" stroke="#ff5500" stroke-width="0.8"/>
<polygon points="437.6,323.5 448.8,323.1 460.1,322.7 460.5,334.8 449.2,335.2 438,335.5" fill="#f200ff" stroke="#f200ff" stroke-width="0.8"/>
<polygon points="460.1,322.7 471.3,322.3 471.7,334.4 460.5,334.8" fill="#ff2d00" stroke="#ff2d00" stroke-width="0.8"/>
<polygon points="471.3,322.3 482.5,321.9 483,333.9 471.7,334.4" fill="#f200ff" stroke="#f200ff" stroke-width="0.8"/>
<polygon points="482.5,321.9 498,321.3 513.4,320.6 514,332.6 498.5,333.3 483,333.9" fill="#ff5500" stroke="#ff5500" stroke-width="0.8"/>
<polygon points="46.6,332.6 66.3,333.5 65.8,345.5 46.1,344.6" fill="#ff9900" stroke="#ff9900" stroke-width="0.8"/>
<polygon points="66.3,333.5 77.6,333.9 88.9,334.4 100.1,334.8 111.4,335.2 111,347.2 99.7,346.8 88.4,346.4 77.1,346 65.8,345.5" fill="#f200ff" stroke="#f200ff" stroke-width="0.8"/>
<polygon points="111.4,335.2 122.6,335.5 133.9,335.9 133.5,347.9 122.3,347.6 111,347.2" fill="#ffee00" stroke="#ffee00" stroke-width="0.8"/>
<polygon points="133.9,335.9 145.1,336.2 156.4,336.5 156.1,348.5 144.8,348.2 133.5,347.9" fill="#f200ff" stroke="#f200ff" stroke-width="0.8"/>
<polygon points="156.4,336.5 167.7,336.7 178.9,337 190.2,337.2 201.5,337.4 212.7,337.5 224,337.7 235.2,337.8 246.5,337.9 257.8,337.9 269,338 280.3,338 291.6,338 302.8,337.9 314.1,337.9 325.4,337.8 336.6,337.7 347.9,337.5 348,349.6 336.8,349.7 325.5,349.8 314.2,349.9 302.9,350 291.6,350 280.3,350 269,350 257.7,350 246.4,349.9 235.1,349.8 223.8,349.7 212.6,349.6 201.3,349.4 190,349.2 178.7,349 167.4,348.8 156.1,348.5" fill="#00ff00" stroke="#00ff00" stroke-width="0.8"/>
<polygon points="347.9,337.5 359.1,337.4 370.4,337.2 370.6,349.2 359.3,349.4 348,349.6" fill="#00ff66" stroke="#00ff66" stroke-width="0.8"/>
<polygon points="370.4,337.2 381.7,337 392.9,336.7 404.2,336.5 404.5,348.5 393.2,348.8 381.9,349 370.6,349.2" fill="#00ff00" stroke="#00ff00" stroke-width="0.8"/>
<polygon points="404.2,336.5 415.5,336.2 426.7,335.9 438,335.5 438.3,347.6 427.1,347.9 415.8,348.2 404.5,348.5" fill="#ff5500" stroke="#ff5500" stroke-width="0.8"/>
<polygon points="438,335.5 449.2,335.2 460.5,334.8 471.7,334.4 472.2,346.4 460.9,346.8 449.6,347.2 438.3,347.6" fill="#f200ff" stroke="#f200ff" stroke-width="0.8"/>
<polygon points="471.7,334.4 483,333.9 483.5,346 472.2,346.4" fill="#ff2d00" stroke="#ff2d00" stroke-width="0.8"/>
<polygon points="483,333.9 498.5,333.3 514,332.6 514.5,344.6 499,345.3 483.5,346" fill="#ff5500" stroke="#ff5500" stroke-width="0.8"/>
<polygon points="46.1,344.6 59.5,345.2 72.9,345.8 86.3,346.3 99.7,346.8 99.3,358.9 85.8,358.4 72.4,357.8 59,357.3 45.5,356.7" fill="#f200ff" stroke="#f200ff" stroke-width="0.8"/>
<polygon points="99.7,346.8 111,347.2 110.6,359.2 99.3,358.9" fill="#ff9900" stroke="#ff9900" stroke-width="0.8"/>
<polygon points="111,347.2 122.3,347.6 133.5,347.9 144.8,348.2 144.5,360.3 133.2,360 121.9,359.6 110.6,359.2" fill="#f200ff" stroke="#f200ff" stroke-width="0.8"/>
<polygon points="144.8,348.2 156.1,348.5 155.8,360.6 144.5,360.3" fill="#ff9900" stroke="#ff9900" stroke-width="0.8"/>
<polygon points="156.1,348.5 167.4,348.8 167.1,360.8 155.8,360.6" fill="#ff2d00" stroke="#ff2d00" stroke-width="0.8"/>
<polygon points="167.4,348.8 178.7,349 190,349.2 201.3,349.4 212.6,349.6 223.8,349.7 235.1,349.8 246.4,349.9 257.7,350 269,350 280.3,350 291.6,350 302.9,350 314.2,349.9 325.5,349.8 336.8,349.7 348,349.6 359.3,349.4 370.6,349.2 381.9,349 393.2,348.8 404.5,348.5 404.8,360.6 393.5,360.8 382.2,361.1 370.8,361.3 359.5,361.5 348.2,361.6 336.9,361.8 325.6,361.9 314.3,362 302.9,362 291.6,362.1 280.3,362.1 269,362.1 257.7,362 246.3,362 235,361.9 223.7,361.8 212.4,361.6 201.1,361.5 189.8,361.3 178.4,361.1 167.1,360.8" fill="#00ff00" stroke="#00ff00" stroke-width="0.8"/>
<polygon points="404.5,348.5 415.8,348.2 416.1,360.3 404.8,360.6" fill="#ff2d00" stroke="#ff2d00" stroke-width="0.8"/>
<polygon points="415.8,348.2 427.1,347.9 427.4,360 416.1,360.3" fill="#ff5500" stroke="#ff5500" stroke-width="0.8"/>
<polygon points="427.1,347.9 438.3,347.6 449.6,347.2 460.9,346.8 461.3,358.9 450,359.2 438.7,359.6 427.4,360" fill="#f200ff" stroke="#f200ff" stroke-width="0.8"/>
<polygon points="460.9,346.8 472.2,346.4 472.7,358.4 461.3,358.9" fill="#ff2d00" stroke="#ff2d00" stroke-width="0.8"/>
<polygon points="472.2,346.4 486.3,345.8 500.4,345.3 514.5,344.6 515.1,356.7 500.9,357.3 486.8,357.9 472.7,358.4" fill="#ff5500" stroke="#ff5500" stroke-width="0.8"/>
<polygon points="45.5,356.7 65.3,357.5 64.8,369.6 45,368.7" fill="#00ff00" stroke="#00ff00" stroke-width="0.8"/>
<polygon points="65.3,357.5 76.6,358 76.1,370 64.8,369.6" fill="#ff9900" stroke="#ff9900" stroke-width="0.8"/>
<polygon points="76.6,358 87.9,358.4 99.3,358.9 110.6,359.2 121.9,359.6 121.5,371.6 110.2,371.3 98.8,370.9 87.5,370.5 76.1,370" fill="#f200ff" stroke="#f200ff" stroke-width="0.8"/>
<polygon points="121.9,359.6 133.2,360 132.8,372 121.5,371.6" fill="#00ff00" stroke="#00ff00" stroke-width="0.8"/>
<polygon points="133.2,360 144.5,360.3 144.2,372.3 132.8,372" fill="#ff9900" stroke="#ff9900" stroke-width="0.8"/>
<polygon points="144.5,360.3 155.8,360.6 167.1,360.8 166.9,372.9 155.5,372.6 144.2,372.3" fill="#ff2d00" stroke="#ff2d00" stroke-width="0.8"/>
<polygon points="167.1,360.8 178.4,361.1 189.8,361.3 201.1,361.5 212.4,361.6 223.7,361.8 235,361.9 246.3,362 257.7,362 269,362.1 280.3,362.1 291.6,362.1 302.9,362 314.3,362 325.6,361.9 336.9,361.8 348.2,361.6 359.5,361.5 370.8,361.3 382.2,361.1 382.4,373.1 371.1,373.3 359.7,373.5 348.4,373.7 337,373.8 325.7,373.9 314.3,374 303,374.1 291.6,374.1 280.3,374.1 269,374.1 257.6,374.1 246.3,374 234.9,373.9 223.6,373.8 212.2,373.7 200.9,373.5 189.5,373.3 178.2,373.1 166.9,372.9" fill="#00ff00" stroke="#00ff00" stroke-width="0.8"/>
<polygon points="382.2,361.1 393.5,360.8 404.8,360.6 405.1,372.6 393.7,372.9 382.4,373.1" fill="#ff5500" stroke="#ff5500" stroke-width="0.8"/>
<polygon points="404.8,360.6 416.1,360.3 416.4,372.3 405.1,372.6" fill="#ffee00" stroke="#ffee00" stroke-width="0.8"/>
<polygon points="416.1,360.3 427.4,360 427.8,372 416.4,372.3" fill="#ff9900" stroke="#ff9900" stroke-width="0.8"/>
<polygon points="427.4,360 438.7,359.6 450,359.2 450.4,371.3 439.1,371.6 427.8,372" fill="#f200ff" stroke="#f200ff" stroke-width="0.8"/>
<polygon points="450,359.2 461.3,358.9 472.7,358.4 473.1,370.5 461.8,370.9 450.4,371.3" fill="#ff2d00" stroke="#ff2d00" stroke-width="0.8"/>
<polygon points="472.7,358.4 486.8,357.9 500.9,357.3 515.1,356.7 515.6,368.7 501.5,369.3 487.3,369.9 473.1,370.5" fill="#ff5500" stroke="#ff5500" stroke-width="0.8"/>
<polygon points="45,368.7 64.8,369.6 64.3,381.6 44.4,380.7" fill="#ff9900" stroke="#ff9900" stroke-width="0.8"/>
<polygon points="64.8,369.6 76.1,370 75.7,382.1 64.3,381.6" fill="#bbff00" stroke="#bbff00" stroke-width="0.8"/>
<polygon points="76.1,370 87.5,370.5 98.8,370.9 110.2,371.3 109.8,383.3 98.4,382.9 87,382.5 75.7,382.1" fill="#f200ff" stroke="#f200ff" stroke-width="0.8"/>
<polygon points="110.2,371.3 121.5,371.6 132.8,372 132.5,384 121.1,383.7 109.8,383.3" fill="#00ff00" stroke="#00ff00" stroke-width="0.8"/>
<polygon points="132.8,372 144.2,372.3 143.9,384.3 132.5,384" fill="#f200ff" stroke="#f200ff" stroke-width="0.8"/>
<polygon points="144.2,372.3 155.5,372.6 166.9,372.9 166.6,384.9 155.2,384.6 143.9,384.3" fill="#ff2d00" stroke="#ff2d00" stroke-width="0.8"/>
<polygon points="166.9,372.9 178.2,373.1 189.5,373.3 200.9,373.5 212.2,373.7 223.6,373.8 234.9,373.9 246.3,374 257.6,374.1 257.6,386.1 246.2,386.1 234.8,386 223.4,385.9 212.1,385.7 200.7,385.5 189.3,385.4 178,385.1 166.6,384.9" fill="#00ff00" stroke="#00ff00" stroke-width="0.8"/>
<polygon points="257.6,374.1 269,374.1 268.9,386.2 257.6,386.1" fill="#ff9900" stroke="#ff9900" stroke-width="0.8"/>
<polygon points="269,374.1 280.3,374.1 291.6,374.1 303,374.1 314.3,374 325.7,373.9 337,373.8 348.4,373.7 359.7,373.5 371.1,373.3 382.4,373.1 393.7,372.9 405.1,372.6 416.4,372.3 427.8,372 439.1,371.6 450.4,371.3 450.8,383.3 439.5,383.7 428.1,384 416.7,384.3 405.4,384.6 394,384.9 382.6,385.1 371.3,385.4 359.9,385.5 348.5,385.7 337.2,385.9 325.8,386 314.4,386.1 303,386.1 291.7,386.2 280.3,386.2 268.9,386.2" fill="#00ff00" stroke="#00ff00" stroke-width="0.8"/>
<polygon points="450.4,371.3 461.8,370.9 473.1,370.5 473.6,382.5 462.2,382.9 450.8,383.3" fill="#ff5500" stroke="#ff5500" stroke-width="0.8"/>
<polygon points="473.1,370.5 484.5,370 484.9,382.1 473.6,382.5" fill="#00ff00" stroke="#00ff00" stroke-width="0.8"/>
<polygon points="484.5,370 500,369.4 515.6,368.7 516.2,380.7 500.6,381.4 484.9,382.1" fill="#ff5500" stroke="#ff5500" stroke-width="0.8"/>
<polygon points="44.4,380.7 64.3,381.6 63.8,393.6 43.9,392.7" fill="#bbff00" stroke="#bbff00" stroke-width="0.8"/>
<polygon points="64.3,381.6 75.7,382.1 87,382.5 86.6,394.5 75.2,394.1 63.8,393.6" fill="#f200ff" stroke="#f200ff" stroke-width="0.8"/>
<polygon points="87,382.5 98.4,382.9 109.8,383.3 109.4,395.4 98,395 86.6,394.5" fill="#ff9900" stroke="#ff9900" stroke-width="0.8"/>
<polygon points="109.8,383.3 121.1,383.7 132.5,384 143.9,384.3 143.5,396.4 132.1,396.1 120.7,395.7 109.4,395.4" fill="#00ff00" stroke="#00ff00" stroke-width="0.8"/>
<polygon points="143.9,384.3 155.2,384.6 154.9,396.7 143.5,396.4" fill="#ff9900" stroke="#ff9900" stroke-width="0.8"/>
<polygon points="155.2,384.6 166.6,384.9 166.3,396.9 154.9,396.7" fill="#ff2d00" stroke="#ff2d00" stroke-width="0.8"/>
<polygon points="166.6,384.9 178,385.1 177.7,397.2 166.3,396.9" fill="#00ff66" stroke="#00ff66" stroke-width="0.8"/>
<polygon points="178,385.1 189.3,385.4 189.1,397.4 177.7,397.2" fill="#00ffaa" stroke="#00ffaa" stroke-width="0.8"/>
<polygon points="189.3,385.4 200.7,385.5 200.5,397.6 189.1,397.4" fill="#00ff66" stroke="#00ff66" stroke-width="0.8"/>
<polygon points="200.7,385.5 212.1,385.7 223.4,385.9 234.8,386 246.2,386.1 246.1,398.1 234.7,398 223.3,397.9 211.9,397.8 200.5,397.6" fill="#00ff00" stroke="#00ff00" stroke-width="0.8"/>
<polygon points="246.2,386.1 257.6,386.1 257.5,398.2 246.1,398.1" fill="#ff9900" stroke="#ff9900" stroke-width="0.8"/>
<polygon points="257.6,386.1 268.9,386.2 280.3,386.2 280.3,398.2 268.9,398.2 257.5,398.2" fill="#f200ff" stroke="#f200ff" stroke-width="0.8"/>
<polygon points="280.3,386.2 291.7,386.2 303,386.1 314.4,386.1 325.8,386 337.2,385.9 348.5,385.7 359.9,385.5 371.3,385.4 371.5,397.4 360.1,397.6 348.7,397.8 337.3,397.9 325.9,398 314.5,398.1 303.1,398.2 291.7,398.2 280.3,398.2" fill="#00ff00" stroke="#00ff00" stroke-width="0.8"/>
<polygon points="371.3,385.4 382.6,385.1 394,384.9 405.4,384.6 405.7,396.7 394.3,396.9 382.9,397.2 371.5,397.4" fill="#ff2d00" stroke="#ff2d00" stroke-width="0.8"/>
<polygon points="405.4,384.6 416.7,384.3 428.1,384 439.5,383.7 450.8,383.3 462.2,382.9 473.6,382.5 484.9,382.1 485.4,394.1 474,394.5 462.6,395 451.2,395.4 439.9,395.7 428.5,396.1 417.1,396.4 405.7,396.7" fill="#00ff00" stroke="#00ff00" stroke-width="0.8"/>
<polygon points="484.9,382.1 500.6,381.4 516.2,380.7 516.7,392.7 501.1,393.4 485.4,394.1" fill="#ff5500" stroke="#ff5500" stroke-width="0.8"/>
<polygon points="43.9,392.7 59.5,393.4 75.2,394.1 74.7,406.1 59,405.5 43.3,404.8" fill="#ff9900" stroke="#ff9900" stroke-width="0.8"/>
<polygon points="75.2,394.1 86.6,394.5 98,395 109.4,395.4 109,407.4 97.5,407 86.1,406.6 74.7,406.1" fill="#f200ff" stroke="#f200ff" stroke-width="0.8"/>
<polygon points="109.4,395.4 120.7,395.7 132.1,396.1 143.5,396.4 143.2,408.4 131.8,408.1 120.4,407.8 109,407.4" fill="#00ff00" stroke="#00ff00" stroke-width="0.8"/>
<polygon points="143.5,396.4 154.9,396.7 166.3,396.9 166.1,409 154.6,408.7 143.2,408.4" fill="#ff5500" stroke="#ff5500" stroke-width="0.8"/>
<polygon points="166.3,396.9 177.7,397.2 189.1,397.4 188.9,409.4 177.5,409.2 166.1,409" fill="#00ffaa" stroke="#00ffaa" stroke-width="0.8"/>
<polygon points="189.1,397.4 200.5,397.6 200.3,409.6 188.9,409.4" fill="#00ff66" stroke="#00ff66" stroke-width="0.8"/>
<polygon points="200.5,397.6 211.9,397.8 223.3,397.9 234.7,398 246.1,398.1 246,410.1 234.6,410.1 223.2,409.9 211.8,409.8 200.3,409.6" fill="#00ff00" stroke="#00ff00" stroke-width="0.8"/>
<polygon points="246.1,398.1 257.5,398.2 257.4,410.2 246,410.1" fill="#ff2d00" stroke="#ff2d00" stroke-width="0.8"/>
<polygon points="257.5,398.2 268.9,398.2 268.9,410.2 257.4,410.2" fill="#f200ff" stroke="#f200ff" stroke-width="0.8"/>
<polygon points="268.9,398.2 280.3,398.2 291.7,398.2 303.1,398.2 314.5,398.1 314.6,410.1 303.2,410.2 291.7,410.2 280.3,410.3 268.9,410.2" fill="#00ff00" stroke="#00ff00" stroke-width="0.8"/>
<polygon points="314.5,398.1 325.9,398 326,410.1 314.6,410.1" fill="#00ff66" stroke="#00ff66" stroke-width="0.8"/>
<polygon points="325.9,398 337.3,397.9 348.7,397.8 360.1,397.6 371.5,397.4 371.7,409.4 360.3,409.6 348.8,409.8 337.4,409.9 326,410.1" fill="#00ff00" stroke="#00ff00" stroke-width="0.8"/>
<polygon points="371.5,397.4 382.9,397.2 383.1,409.2 371.7,409.4" fill="#ff2d00" stroke="#ff2d00" stroke-width="0.8"/>
<polygon points="382.9,397.2 394.3,396.9 405.7,396.7 417.1,396.4 428.5,396.1 439.9,395.7 451.2,395.4 462.6,395 463.1,407 451.6,407.4 440.2,407.8 428.8,408.1 417.4,408.4 406,408.7 394.5,409 383.1,409.2" fill="#00ff00" stroke="#00ff00" stroke-width="0.8"/>
<polygon points="462.6,395 476.2,394.5 489.7,393.9 503.2,393.4 516.7,392.7 517.3,404.8 503.7,405.4 490.2,406 476.6,406.5 463.1,407" fill="#ff5500" stroke="#ff5500" stroke-width="0.8"/>
<polygon points="43.3,404.8 63.3,405.7 62.3,428.5 42.3,427.6" fill="#ff2d00" stroke="#ff2d00" stroke-width="0.8"/>
<polygon points="63.3,405.7 74.7,406.1 73.8,429 62.3,428.5" fill="#ffee00" stroke="#ffee00" stroke-width="0.8"/>
<polygon points="74.7,406.1 86.1,406.6 97.5,407 96.7,429.9 85.2,429.4 73.8,429" fill="#f200ff" stroke="#f200ff" stroke-width="0.8"/>
<polygon points="97.5,407 109,407.4 108.2,430.3 96.7,429.9" fill="#ffee00" stroke="#ffee00" stroke-width="0.8"/>
<polygon points="109,407.4 120.4,407.8 131.8,408.1 143.2,408.4 142.6,431.3 131.1,431 119.7,430.6 108.2,430.3" fill="#00ff00" stroke="#00ff00" stroke-width="0.8"/>
<polygon points="143.2,408.4 154.6,408.7 154.1,431.6 142.6,431.3" fill="#ff9900" stroke="#ff9900" stroke-width="0.8"/>
<polygon points="154.6,408.7 166.1,409 165.5,431.9 154.1,431.6" fill="#00ff00" stroke="#00ff00" stroke-width="0.8"/>
<polygon points="166.1,409 177.5,409.2 177,432.1 165.5,431.9" fill="#00ff66" stroke="#00ff66" stroke-width="0.8"/>
<polygon points="177.5,409.2 188.9,409.4 188.5,432.3 177,432.1" fill="#00ffaa" stroke="#00ffaa" stroke-width="0.8"/>
<polygon points="188.9,409.4 200.3,409.6 200,432.5 188.5,432.3" fill="#00ff66" stroke="#00ff66" stroke-width="0.8"/>
<polygon points="200.3,409.6 211.8,409.8 223.2,409.9 234.6,410.1 234.4,432.9 222.9,432.8 211.4,432.7 200,432.5" fill="#00ff00" stroke="#00ff00" stroke-width="0.8"/>
<polygon points="234.6,410.1 246,410.1 245.9,433 234.4,432.9" fill="#f200ff" stroke="#f200ff" stroke-width="0.8"/>
<polygon points="246,410.1 257.4,410.2 257.3,433.1 245.9,433" fill="#ffee00" stroke="#ffee00" stroke-width="0.8"/>
<polygon points="257.4,410.2 268.9,410.2 280.3,410.3 291.7,410.2 303.2,410.2 314.6,410.1 326,410.1 337.4,409.9 337.7,432.8 326.2,432.9 314.7,433 303.3,433.1 291.8,433.1 280.3,433.1 268.8,433.1 257.3,433.1" fill="#00ff00" stroke="#00ff00" stroke-width="0.8"/>
<polygon points="337.4,409.9 348.8,409.8 349.2,432.7 337.7,432.8" fill="#00ff66" stroke="#00ff66" stroke-width="0.8"/>
<polygon points="348.8,409.8 360.3,409.6 371.7,409.4 383.1,409.2 383.6,432.1 372.1,432.3 360.6,432.5 349.2,432.7" fill="#00ff00" stroke="#00ff00" stroke-width="0.8"/>
<polygon points="383.1,409.2 394.5,409 395.1,431.9 383.6,432.1" fill="#ff2d00" stroke="#ff2d00" stroke-width="0.8"/>
<polygon points="394.5,409 406,408.7 406.5,431.6 395.1,431.9" fill="#f200ff" stroke="#f200ff" stroke-width="0.8"/>
<polygon points="406,408.7 417.4,408.4 418,431.3 406.5,431.6" fill="#ff2d00" stroke="#ff2d00" stroke-width="0.8"/>
<polygon points="417.4,408.4 428.8,408.1 440.2,407.8 451.6,407.4 452.4,430.3 440.9,430.6 429.5,431 418,431.3" fill="#00ff00" stroke="#00ff00" stroke-width="0.8"/>
<polygon points="451.6,407.4 463.1,407 463.9,429.9 452.4,430.3" fill="#ff5500" stroke="#ff5500" stroke-width="0.8"/>
<polygon points="463.1,407 476.6,406.5 490.2,406 503.7,405.4 517.3,404.8 518.3,427.6 504.7,428.2 491.1,428.8 477.5,429.4 463.9,429.9" fill="#00ff00" stroke="#00ff00" stroke-width="0.8"/>
</g>
<polygon points="400,40 426,58.5 460,64.5 490.5,70 493,74 510,78 510,40" fill="#fff"/>
<polygon points="65.3,60 67.9,60 70.1,69 64.9,69" fill="#fff"/><polygon points="64.2,84 66.8,84 69,93 63.8,93" fill="#fff"/><polygon points="63,112 65.6,112 67.7,121 62.5,121" fill="#fff"/><polygon points="61.7,140 64.3,140 66.5,149 61.3,149" fill="#fff"/><polygon points="60.7,162 63.3,162 65.5,171 60.3,171" fill="#fff"/><polygon points="59.5,190 62.1,190 64.3,199 59.1,199" fill="#fff"/><polygon points="58.5,211 61.1,211 63.3,220 58.1,220" fill="#fff"/><polygon points="57.3,238 59.9,238 62.1,247 56.9,247" fill="#fff"/><polygon points="56.2,263 58.8,263 61,272 55.8,272" fill="#fff"/><polygon points="54.7,298 57.3,298 59.5,307 54.3,307" fill="#fff"/><polygon points="53,335 55.6,335 57.8,344 52.6,344" fill="#fff"/><polygon points="52.3,350 54.9,350 57.1,359 51.9,359" fill="#fff"/><polygon points="51,380 53.6,380 55.8,389 50.6,389" fill="#fff"/><polygon points="50.1,400 52.7,400 54.9,409 49.7,409" fill="#fff"/>
<polygon points="497.1,100 494.5,100 492.7,109 497.5,109" fill="#fff"/><polygon points="498.7,135 496.1,135 494.3,144 499.1,144" fill="#fff"/><polygon points="499.8,160 497.2,160 495.4,169 500.2,169" fill="#fff"/><polygon points="501.1,190 498.5,190 496.7,199 501.5,199" fill="#fff"/><polygon points="502.2,215 499.6,215 497.8,224 502.6,224" fill="#fff"/><polygon points="503.4,240 500.8,240 499,249 503.8,249" fill="#fff"/><polygon points="504.3,262 501.7,262 499.9,271 504.7,271" fill="#fff"/><polygon points="505.6,290 503,290 501.2,299 506,299" fill="#fff"/><polygon points="506.7,315 504.1,315 502.3,324 507.1,324" fill="#fff"/><polygon points="508,345 505.4,345 503.6,354 508.4,354" fill="#fff"/><polygon points="509.2,372 506.6,372 504.8,381 509.6,381" fill="#fff"/><polygon points="510.4,398 507.8,398 506,407 510.8,407" fill="#fff"/>
</g>
<g fill="none" stroke="#000" stroke-width="1" stroke-dasharray="1 1.6" opacity="0.8"><polyline points="173.8,59.8 165.8,421"/><polyline points="280.3,61 280.3,422.3"/><polyline points="386.8,59.8 394.8,421"/><polyline points="54.6,345 77.1,346 99.7,346.8 122.3,347.6 144.8,348.2 167.4,348.8 190,349.2 212.6,349.6 235.1,349.8 257.7,350 280.3,350 302.9,350 325.5,349.8 348,349.6 370.6,349.2 393.2,348.8 415.8,348.2 438.3,347.6 460.9,346.8 483.5,346 506,345"/><polyline points="57.8,272.8 80,273.8 102.3,274.6 124.5,275.3 146.8,276 169,276.5 191.3,277 213.5,277.3 235.8,277.6 258,277.7 280.3,277.8 302.6,277.7 324.8,277.6 347.1,277.3 369.3,277 391.6,276.5 413.8,276 436.1,275.3 458.3,274.6 480.6,273.8 502.8,272.8"/><polyline points="61,200.6 82.9,201.6 104.8,202.4 126.8,203.1 148.7,203.8 170.6,204.3 192.6,204.7 214.5,205.1 236.4,205.3 258.4,205.5 280.3,205.5 302.2,205.5 324.2,205.3 346.1,205.1 368,204.7 390,204.3 411.9,203.8 433.8,203.1 455.8,202.4 477.7,201.6 499.6,200.6"/><polyline points="64.2,128.4 85.8,129.4 107.4,130.2 129,130.9 150.6,131.5 172.2,132.1 193.8,132.5 215.5,132.8 237.1,133.1 258.7,133.2 280.3,133.3 301.9,133.2 323.5,133.1 345.1,132.8 366.8,132.5 388.4,132.1 410,131.5 431.6,130.9 453.2,130.2 474.8,129.4 496.4,128.4"/></g>
<g stroke="#222" stroke-width="1"><line x1="52.1" y1="345" x2="58.9" y2="345.2"/><line x1="508.5" y1="345" x2="501.7" y2="345.2"/><line x1="55.3" y1="272.8" x2="62.1" y2="273"/><line x1="505.3" y1="272.8" x2="498.5" y2="273"/><line x1="58.5" y1="200.6" x2="65.3" y2="200.8"/><line x1="502.1" y1="200.6" x2="495.3" y2="200.8"/><line x1="61.7" y1="128.4" x2="68.5" y2="128.6"/><line x1="498.9" y1="128.4" x2="492.1" y2="128.6"/><line x1="165.8" y1="423" x2="165.9" y2="416.7"/><line x1="173.8" y1="57.8" x2="173.7" y2="64.1"/><line x1="280.3" y1="424.3" x2="280.3" y2="418"/><line x1="280.3" y1="59" x2="280.3" y2="65.3"/><line x1="394.8" y1="423" x2="394.7" y2="416.7"/><line x1="386.8" y1="57.8" x2="386.9" y2="64.1"/></g>
<g fill="none" stroke="#000" stroke-width="1.7" stroke-linejoin="round">
<polyline points="305.1,221.3 304.4,220.0 303.5,218.5 303.0,216.9 301.7,215.8 301.0,214.3 298.9,213.1 298.2,211.2 300.3,209.3 302.0,209.2 303.7,208.7 305.8,206.8 307.4,206.0 309.2,206.2 312.0,205.6 312.7,204.0 313.3,202.4 314.7,201.2 316.8,201.8 318.1,203.0 317.9,204.6 317.4,206.2 318.1,208.7 319.5,211.2 320.9,212.2 321.6,213.7 322.9,215.0 324.3,216.2 326.1,217.5 327.1,219.4 328.4,221.3 330.5,223.1 331.6,224.3 332.6,225.7 334.4,225.8 336.0,226.9 337.6,226.5 339.2,226.8 340.8,226.9 342.8,227.6 344.9,227.5 347.1,227.8 349.1,228.8 351.2,229.1 353.2,230.0 354.9,229.6 356.6,228.8 358.5,228.6 360.1,227.5 362.1,228.2 362.8,230.0 360.7,231.9 358.7,233.8 357.3,234.4 354.6,235.1 353.1,235.9 351.8,237.0 350.5,238.0 349.1,238.8 347.7,241.4 347.4,244.5 348.4,247.0 347.5,248.5 347.7,250.1 349.1,252.0 350.8,252.9 351.8,254.5 352.9,256.7 354.6,258.3 355.2,260.5"/>
<polyline points="305.1,221.3 302.3,221.9 299.6,222.5 296.8,221.9 294.1,220.6 293.4,221.9 292.9,223.5 292.0,225.0 291.3,226.5 290.0,227.5 288.8,228.8 287.2,229.4 284.5,230.7 283.2,231.8 281.7,232.6 279.0,233.8 276.2,233.2 274.4,233.2 272.8,233.8 271.6,235.0 270.0,235.7 268.6,236.6 267.3,237.6 266.1,239.1 265.2,240.7 265.9,243.2 267.1,244.4 268.0,245.8 269.0,247.0 270.0,248.3 271.4,249.2 272.1,250.8 274.2,252.7 276.2,254.5 277.6,257.1 278.4,258.7 278.3,260.5"/>
<polyline points="305.1,221.3 306.3,222.5 306.7,224.3 307.8,225.7 308.6,227.1 309.4,228.5 309.9,230.0 310.6,232.6 309.2,235.1 307.8,237.0 306.7,238.2 305.8,239.5 303.7,240.7 301.6,240.8 299.6,240.7 298.3,241.9 296.8,242.6 296.2,244.4 296.1,246.4 296.3,248.0 296.8,249.5 298.1,250.6 298.9,252.0 300.6,253.4 302.3,254.5 305.1,255.8 306.1,257.1 307.1,258.3 307.8,260.5"/>
<polyline points="327.1,219.4 325.7,220.4 325.0,221.9 322.9,223.1 320.9,225.0 319.5,227.5 318.9,229.7 318.8,231.9 318.8,233.6 317.8,235.2 318.1,237.0 318.9,238.8 318.8,240.7 319.3,242.6 319.5,244.5 318.9,246.3 318.8,248.3 319.5,250.1 319.5,252.0 320.2,253.6 320.9,255.2 322.3,257.1 323.4,258.6 323.6,260.5"/>
<polyline points="347.7,250.1 345.6,250.3 343.6,250.8 341.4,251.1 339.4,252.0 337.7,252.9 336.0,253.9 334.7,254.9 333.9,256.4 333.4,258.5 332.6,260.5"/>
<polyline points="277.6,255.8 279.7,255.1 281.7,253.9 283.8,253.7 285.8,253.3 287.9,252.4 290.0,251.4 292.0,250.7 294.1,250.1 296.8,249.5"/>
<polyline points="351.1,253.5 351.7,255.0 352.6,256.4 353.9,257.4 354.9,258.7 355.7,260.1 356.8,261.3 357.5,264.0 356.8,265.6 355.4,266.6 353.1,267.4 351.1,268.6 348.8,269.4 346.8,270.6 344.4,271.0 342.4,272.5 340.2,272.8 338.1,273.8 336.4,274.4 334.5,274.5 332.7,275.0 330.9,275.2 328.7,275.3 326.6,275.8 324.9,276.7 323.0,276.5 323.0,278.4 323.4,280.1 323.7,281.7 325.4,283.1 326.6,285.0 328.3,286.0 329.5,287.6 330.8,288.7 331.2,290.5 332.4,291.6 332.4,293.6 331.6,295.5 331.6,297.6 330.9,299.5 329.6,300.9 328.1,302.1 326.4,302.8 325.2,304.1 323.2,305.5 320.9,306.1 318.0,307.4 315.1,308.0 312.2,309.3 309.3,310.7 306.5,312.0 304.3,314.0 303.6,316.6 302.2,317.9 300.0,317.2 297.8,315.3 296.4,314.3 295.0,313.3 292.8,311.3 292.1,308.7 289.2,307.4 286.3,307.4 283.5,306.7 281.6,307.0 279.9,307.4 277.9,307.6 276.3,308.7 273.4,310.0 270.5,311.3 267.6,312.6 264.8,311.3 263.6,309.7 261.9,308.7 260.7,307.4 259.0,306.7 256.1,306.1 253.2,305.4 252.0,303.9 251.1,302.1 250.6,300.2 250.4,298.2 249.9,296.6 249.6,294.9 248.2,292.9 250.4,291.6 252.5,290.3 251.1,287.6 249.6,285.0 248.9,282.8 247.5,281.1 248.3,279.2 248.2,277.1 249.0,275.6 250.4,274.5 251.6,272.9 253.2,271.9 254.5,270.6 256.1,269.9 258.2,268.6 260.4,267.9 262.6,267.2 264.8,266.6 267.6,265.9 270.5,266.6 271.7,265.4 272.7,264.0 273.4,261.3 274.8,258.7 276.3,256.1 277.0,253.5"/>
<polyline points="250.4,291.6 251.7,290.5 253.0,289.4 254.7,289.0 256.1,288.0 257.5,287.1 259.0,286.3 261.2,285.7 263.3,285.0 265.6,285.0 267.6,284.0 269.8,284.4 271.9,284.4 274.1,285.0 276.3,285.7 278.4,286.8 280.6,287.6 283.5,288.3 285.6,287.6"/>
<polyline points="272.7,264.0 273.6,266.0 274.8,267.9 276.6,268.6 277.4,270.5 279.1,271.2 280.8,272.5 282.7,273.2 284.9,271.9 286.6,270.9 287.8,269.2 289.4,268.2 290.6,266.6 292.2,267.8 293.5,269.2 295.0,270.5 296.4,271.9 298.6,273.8 300.0,275.2 302.2,274.5 305.0,273.2 306.2,271.5 307.9,270.6"/>
<polyline points="306.5,253.5 306.6,255.2 307.4,256.9 307.2,258.7 307.4,260.5 307.0,262.3 306.5,264.0 307.3,265.6 307.6,267.4 307.9,269.2 309.4,270.2 310.1,271.9 312.2,273.2 314.0,273.7 315.1,275.2 318.0,276.5 319.7,276.1 321.3,276.0 323.0,276.5"/>
<polyline points="330.9,253.5 331.4,255.0 332.0,256.5 331.4,258.3 332.0,259.8 332.4,261.3 333.2,263.0 333.6,264.8 333.8,266.6 334.2,268.6 334.3,270.5 334.8,272.5 334.5,274.5"/>
<polyline points="306.5,258.7 308.3,259.3 310.2,259.7 312.2,259.4 314.4,259.0 316.5,258.7 318.7,258.0 320.9,257.4 322.9,256.3 325.2,256.1 328.1,256.7 329.4,258.0 330.1,259.7 330.9,261.3"/>
<polyline points="284.9,271.9 285.5,273.8 285.6,275.8 286.4,277.4 287.8,278.4 289.5,279.5 290.6,281.1 291.9,282.9 292.1,285.0 290.4,285.5 289.2,286.7 287.8,287.6 284.9,289.0 286.0,290.8 286.3,292.9 288.5,293.6 290.6,294.2 293.5,292.9 295.5,291.8 297.8,291.6 300.0,291.0 302.2,290.3 304.4,290.5 306.5,289.6 308.7,289.7 310.8,289.0 313.7,287.6 315.1,285.0 315.3,283.3 314.8,281.5 315.1,279.8 313.7,277.1 310.8,275.8 307.9,274.5 305.0,273.2"/>
<polyline points="293.5,292.9 293.7,294.9 293.5,296.9 293.5,298.9 292.8,300.8 292.3,302.5 292.3,304.3 292.1,306.1 292.1,308.7"/>
<polyline points="309.3,290.3 310.1,292.9 310.8,295.5 312.0,297.1 313.7,298.2 315.2,299.3 316.5,300.8 318.2,301.9 319.4,303.4 320.9,306.1"/>
<polyline points="300.0,275.2 300.0,276.9 300.7,278.4 299.5,279.9 299.3,281.7 298.5,283.3 298.6,285.0 299.4,286.8 300.7,288.3 302.2,290.3"/>
<polyline points="315.1,285.0 316.7,284.4 318.1,283.5 319.4,282.4 320.4,280.9 321.8,279.8 323.0,278.4"/>
<circle cx="300.7" cy="284.4" r="2.6" fill="#000" stroke="none"/>
<rect x="310.6" y="270.6" width="3.2" height="4.8" fill="#000" stroke="none"/>
</g>
<polygon points="67.4,56.3 78.1,56.7 88.7,57.2 99.3,57.6 110,58 120.6,58.3 131.3,58.7 141.9,59 152.6,59.3 163.2,59.6 173.8,59.8 184.5,60 195.1,60.2 205.8,60.4 216.4,60.6 227.1,60.7 237.7,60.8 248.4,60.9 259,61 269.7,61 280.3,61 290.9,61 301.6,61 312.2,60.9 322.9,60.8 333.5,60.7 344.2,60.6 354.8,60.4 365.5,60.2 376.1,60 386.8,59.8 397.4,59.6 408,59.3 418.7,59 429.3,58.7 440,58.3 450.6,58 461.3,57.6 471.9,57.2 482.5,56.7 493.2,56.3 494.8,92.3 496.4,128.4 498,164.5 499.6,200.6 501.2,236.7 502.8,272.8 504.4,308.9 506,345 507.7,381.1 509.3,417.2 497.8,417.7 486.4,418.2 474.9,418.6 463.5,419 452.1,419.4 440.6,419.8 429.2,420.1 417.7,420.5 406.3,420.8 394.8,421 383.4,421.3 371.9,421.5 360.5,421.7 349,421.8 337.6,422 326.1,422.1 314.7,422.2 303.2,422.2 291.8,422.3 280.3,422.3 268.8,422.3 257.4,422.2 245.9,422.2 234.5,422.1 223,422 211.6,421.8 200.1,421.7 188.7,421.5 177.2,421.3 165.8,421 154.3,420.8 142.9,420.5 131.4,420.1 120,419.8 108.5,419.4 97.1,419 85.7,418.6 74.2,418.2 62.8,417.7 51.3,417.2 52.9,381.1 54.6,345 56.2,308.9 57.8,272.8 59.4,236.7 61,200.6 62.6,164.5 64.2,128.4 65.8,92.3" fill="none" stroke="#555" stroke-width="1"/>
<g font-family="Liberation Sans, sans-serif" font-size="14.8" text-anchor="middle" fill="#000"><text x="279.3" y="12.9">LST: 2012 July 20 11:10</text><text x="279.2" y="29.3">Location: Beijing and surrounding</text><text x="278.7" y="45.7">Cloud Top Temperature</text></g>
<g font-family="Liberation Serif, serif" font-size="22.4" fill="#000">
<text transform="translate(14.4,65) scale(0.98,1)">43°N</text>
<text transform="translate(7,136.3) scale(0.98,1)">42°N</text>
<text transform="translate(6.4,207.2) scale(0.98,1)">41°N</text>
<text transform="translate(4.3,281.6) scale(0.98,1)">40°N</text>
<text transform="translate(2.3,352.6) scale(0.98,1)">39°N</text>
<text transform="translate(0.9,425.8) scale(0.98,1)">38°N</text>
<text transform="translate(14.8,449.6) scale(0.98,1)">112°E</text>
<text transform="translate(139.1,449.5) scale(0.98,1)">114°E</text>
<text transform="translate(258.1,448.2) scale(0.98,1)">116°E</text>
<text transform="translate(363.4,447.7) scale(0.98,1)">118°E</text>
<text transform="translate(470.8,447.8) scale(0.98,1)">120°E</text>
</g></g>
<g transform="matrix(0.919,0,0,1.0053,535.2,0.2)"><clipPath id="clip2"><polygon points="67.4,56.3 78.1,56.7 88.7,57.2 99.3,57.6 110,58 120.6,58.3 131.3,58.7 141.9,59 152.6,59.3 163.2,59.6 173.8,59.8 184.5,60 195.1,60.2 205.8,60.4 216.4,60.6 227.1,60.7 237.7,60.8 248.4,60.9 259,61 269.7,61 280.3,61 290.9,61 301.6,61 312.2,60.9 322.9,60.8 333.5,60.7 344.2,60.6 354.8,60.4 365.5,60.2 376.1,60 386.8,59.8 397.4,59.6 408,59.3 418.7,59 429.3,58.7 440,58.3 450.6,58 461.3,57.6 471.9,57.2 482.5,56.7 493.2,56.3 494.8,92.3 496.4,128.4 498,164.5 499.6,200.6 501.2,236.7 502.8,272.8 504.4,308.9 506,345 507.7,381.1 509.3,417.2 497.8,417.7 486.4,418.2 474.9,418.6 463.5,419 452.1,419.4 440.6,419.8 429.2,420.1 417.7,420.5 406.3,420.8 394.8,421 383.4,421.3 371.9,421.5 360.5,421.7 349,421.8 337.6,422 326.1,422.1 314.7,422.2 303.2,422.2 291.8,422.3 280.3,422.3 268.8,422.3 257.4,422.2 245.9,422.2 234.5,422.1 223,422 211.6,421.8 200.1,421.7 188.7,421.5 177.2,421.3 165.8,421 154.3,420.8 142.9,420.5 131.4,420.1 120,419.8 108.5,419.4 97.1,419 85.7,418.6 74.2,418.2 62.8,417.7 51.3,417.2 52.9,381.1 54.6,345 56.2,308.9 57.8,272.8 59.4,236.7 61,200.6 62.6,164.5 64.2,128.4 65.8,92.3"/></clipPath>
<filter id="blur2" x="-5%" y="-5%" width="110%" height="110%"><feGaussianBlur stdDeviation="5.0"/></filter>
<g clip-path="url(#clip2)">
<g filter="url(#blur2)">
<polygon points="60,45.1 82.8,46.1 105.6,47 128.4,47.7 151.2,48.4 174.1,49 173.3,83.9 150.3,83.3 127.3,82.6 104.3,81.9 81.3,81 58.3,80" fill="#00ff00" stroke="#00ff00" stroke-width="0.8"/>
<polygon points="174.1,49 195.3,49.4 194.7,84.3 173.3,83.9" fill="#00ff30" stroke="#00ff30" stroke-width="0.8"/>
<polygon points="195.3,49.4 216.6,49.7 237.8,50 259.1,50.1 280.3,50.2 280.3,85.1 258.9,85 237.5,84.9 216.1,84.7 194.7,84.3" fill="#00ff60" stroke="#00ff60" stroke-width="0.8"/>
<polygon points="280.3,50.2 301.5,50.1 322.8,50 323.1,84.9 301.7,85 280.3,85.1" fill="#00ff88" stroke="#00ff88" stroke-width="0.8"/>
<polygon points="322.8,50 344,49.7 344.5,84.7 323.1,84.9" fill="#00ff60" stroke="#00ff60" stroke-width="0.8"/>
<polygon points="344,49.7 365.3,49.4 386.5,49 387.3,83.9 365.9,84.3 344.5,84.7" fill="#00ff30" stroke="#00ff30" stroke-width="0.8"/>
<polygon points="386.5,49 407.8,48.5 429,47.8 450.2,47.1 451.5,82 430.1,82.7 408.7,83.4 387.3,83.9" fill="#00ff60" stroke="#00ff60" stroke-width="0.8"/>
<polygon points="450.2,47.1 471.5,46.3 472.9,81.2 451.5,82" fill="#00ff88" stroke="#00ff88" stroke-width="0.8"/>
<polygon points="471.5,46.3 500.6,45.1 502.3,80 472.9,81.2" fill="#00ffa8" stroke="#00ffa8" stroke-width="0.8"/>
<polygon points="58.3,80 82.4,81 106.5,81.9 130.5,82.7 129.8,106.8 105.6,106 81.4,105.1 57.2,104" fill="#00ff00" stroke="#00ff00" stroke-width="0.8"/>
<polygon points="130.5,82.7 151.9,83.4 173.3,83.9 172.8,108 151.3,107.4 129.8,106.8" fill="#00ff30" stroke="#00ff30" stroke-width="0.8"/>
<polygon points="173.3,83.9 194.7,84.3 194.3,108.4 172.8,108" fill="#00ff60" stroke="#00ff60" stroke-width="0.8"/>
<polygon points="194.7,84.3 216.1,84.7 215.8,108.7 194.3,108.4" fill="#00ff88" stroke="#00ff88" stroke-width="0.8"/>
<polygon points="216.1,84.7 237.5,84.9 258.9,85 258.8,109.1 237.3,109 215.8,108.7" fill="#00ffa8" stroke="#00ffa8" stroke-width="0.8"/>
<polygon points="258.9,85 280.3,85.1 280.3,109.2 258.8,109.1" fill="#00ff88" stroke="#00ff88" stroke-width="0.8"/>
<polygon points="280.3,85.1 301.7,85 323.1,84.9 323.3,109 301.8,109.1 280.3,109.2" fill="#00ffa8" stroke="#00ffa8" stroke-width="0.8"/>
<polygon points="323.1,84.9 344.5,84.7 365.9,84.3 366.3,108.4 344.8,108.7 323.3,109" fill="#00ff88" stroke="#00ff88" stroke-width="0.8"/>
<polygon points="365.9,84.3 387.3,83.9 408.7,83.4 409.3,107.4 387.8,108 366.3,108.4" fill="#00ff60" stroke="#00ff60" stroke-width="0.8"/>
<polygon points="408.7,83.4 430.1,82.7 451.5,82 452.3,106.1 430.8,106.8 409.3,107.4" fill="#00ff88" stroke="#00ff88" stroke-width="0.8"/>
<polygon points="451.5,82 472.9,81.2 473.8,105.3 452.3,106.1" fill="#00ff30" stroke="#00ff30" stroke-width="0.8"/>
<polygon points="472.9,81.2 502.3,80 503.4,104 473.8,105.3" fill="#00ff60" stroke="#00ff60" stroke-width="0.8"/>
<polygon points="57.2,104 86.8,105.3 85.8,129.4 56.1,128.1" fill="#00ff00" stroke="#00ff00" stroke-width="0.8"/>
<polygon points="86.8,105.3 108.3,106.1 107.4,130.2 85.8,129.4" fill="#00ff30" stroke="#00ff30" stroke-width="0.8"/>
<polygon points="108.3,106.1 129.8,106.8 151.3,107.4 150.6,131.5 129,130.9 107.4,130.2" fill="#00ff60" stroke="#00ff60" stroke-width="0.8"/>
<polygon points="151.3,107.4 172.8,108 172.2,132.1 150.6,131.5" fill="#00ff30" stroke="#00ff30" stroke-width="0.8"/>
<polygon points="172.8,108 194.3,108.4 193.8,132.5 172.2,132.1" fill="#00ffa8" stroke="#00ffa8" stroke-width="0.8"/>
<polygon points="194.3,108.4 215.8,108.7 215.5,132.8 193.8,132.5" fill="#00ffc4" stroke="#00ffc4" stroke-width="0.8"/>
<polygon points="215.8,108.7 237.3,109 237.1,133.1 215.5,132.8" fill="#00ffa8" stroke="#00ffa8" stroke-width="0.8"/>
<polygon points="237.3,109 258.8,109.1 280.3,109.2 280.3,133.3 258.7,133.2 237.1,133.1" fill="#00ff88" stroke="#00ff88" stroke-width="0.8"/>
<polygon points="280.3,109.2 301.8,109.1 323.3,109 323.5,133.1 301.9,133.2 280.3,133.3" fill="#00ffa8" stroke="#00ffa8" stroke-width="0.8"/>
<polygon points="323.3,109 344.8,108.7 345.1,132.8 323.5,133.1" fill="#00ffc4" stroke="#00ffc4" stroke-width="0.8"/>
<polygon points="344.8,108.7 366.3,108.4 387.8,108 409.3,107.4 430.8,106.8 431.6,130.9 410,131.5 388.4,132.1 366.8,132.5 345.1,132.8" fill="#00ff88" stroke="#00ff88" stroke-width="0.8"/>
<polygon points="430.8,106.8 452.3,106.1 453.2,130.2 431.6,130.9" fill="#00ffa8" stroke="#00ffa8" stroke-width="0.8"/>
<polygon points="452.3,106.1 473.8,105.3 474.8,129.4 453.2,130.2" fill="#00ff88" stroke="#00ff88" stroke-width="0.8"/>
<polygon points="473.8,105.3 503.4,104 504.5,128.1 474.8,129.4" fill="#00ffa8" stroke="#00ffa8" stroke-width="0.8"/>
<polygon points="56.1,128.1 81.8,129.2 107.4,130.2 106.6,154.2 80.8,153.3 55,152.1" fill="#00ff00" stroke="#00ff00" stroke-width="0.8"/>
<polygon points="107.4,130.2 129,130.9 128.3,155 106.6,154.2" fill="#00ff30" stroke="#00ff30" stroke-width="0.8"/>
<polygon points="129,130.9 150.6,131.5 150,155.6 128.3,155" fill="#00ff60" stroke="#00ff60" stroke-width="0.8"/>
<polygon points="150.6,131.5 172.2,132.1 193.8,132.5 193.4,156.6 171.7,156.1 150,155.6" fill="#00ff88" stroke="#00ff88" stroke-width="0.8"/>
<polygon points="193.8,132.5 215.5,132.8 215.1,156.9 193.4,156.6" fill="#00ffa8" stroke="#00ffa8" stroke-width="0.8"/>
<polygon points="215.5,132.8 237.1,133.1 258.7,133.2 258.6,157.3 236.9,157.2 215.1,156.9" fill="#00ffc4" stroke="#00ffc4" stroke-width="0.8"/>
<polygon points="258.7,133.2 280.3,133.3 301.9,133.2 323.5,133.1 323.7,157.2 302,157.3 280.3,157.3 258.6,157.3" fill="#00ffa8" stroke="#00ffa8" stroke-width="0.8"/>
<polygon points="323.5,133.1 345.1,132.8 345.5,156.9 323.7,157.2" fill="#00ffc4" stroke="#00ffc4" stroke-width="0.8"/>
<polygon points="345.1,132.8 366.8,132.5 367.2,156.6 345.5,156.9" fill="#00ffa8" stroke="#00ffa8" stroke-width="0.8"/>
<polygon points="366.8,132.5 388.4,132.1 410,131.5 431.6,130.9 432.3,155 410.6,155.6 388.9,156.1 367.2,156.6" fill="#00ff88" stroke="#00ff88" stroke-width="0.8"/>
<polygon points="431.6,130.9 453.2,130.2 454,154.2 432.3,155" fill="#00ff60" stroke="#00ff60" stroke-width="0.8"/>
<polygon points="453.2,130.2 474.8,129.4 475.8,153.4 454,154.2" fill="#00ff30" stroke="#00ff30" stroke-width="0.8"/>
<polygon points="474.8,129.4 504.5,128.1 505.6,152.1 475.8,153.4" fill="#00ff60" stroke="#00ff60" stroke-width="0.8"/>
<polygon points="55,152.1 80.8,153.3 106.6,154.2 105.7,178.3 79.8,177.3 53.9,176.2" fill="#00ff00" stroke="#00ff00" stroke-width="0.8"/>
<polygon points="106.6,154.2 128.3,155 127.5,179 105.7,178.3" fill="#00ff30" stroke="#00ff30" stroke-width="0.8"/>
<polygon points="128.3,155 150,155.6 149.3,179.7 127.5,179" fill="#00ff60" stroke="#00ff60" stroke-width="0.8"/>
<polygon points="150,155.6 171.7,156.1 171.2,180.2 149.3,179.7" fill="#00ffa8" stroke="#00ffa8" stroke-width="0.8"/>
<polygon points="171.7,156.1 193.4,156.6 193,180.7 171.2,180.2" fill="#00ffc4" stroke="#00ffc4" stroke-width="0.8"/>
<polygon points="193.4,156.6 215.1,156.9 236.9,157.2 258.6,157.3 258.5,181.4 236.6,181.2 214.8,181 193,180.7" fill="#00ffdc" stroke="#00ffdc" stroke-width="0.8"/>
<polygon points="258.6,157.3 280.3,157.3 280.3,181.4 258.5,181.4" fill="#00ffc4" stroke="#00ffc4" stroke-width="0.8"/>
<polygon points="280.3,157.3 302,157.3 302.1,181.4 280.3,181.4" fill="#00ffa8" stroke="#00ffa8" stroke-width="0.8"/>
<polygon points="302,157.3 323.7,157.2 345.5,156.9 345.8,181 324,181.2 302.1,181.4" fill="#00ffc4" stroke="#00ffc4" stroke-width="0.8"/>
<polygon points="345.5,156.9 367.2,156.6 367.6,180.7 345.8,181" fill="#00ffa8" stroke="#00ffa8" stroke-width="0.8"/>
<polygon points="367.2,156.6 388.9,156.1 389.4,180.2 367.6,180.7" fill="#00ff88" stroke="#00ff88" stroke-width="0.8"/>
<polygon points="388.9,156.1 410.6,155.6 432.3,155 433.1,179 411.3,179.7 389.4,180.2" fill="#00ff60" stroke="#00ff60" stroke-width="0.8"/>
<polygon points="432.3,155 454,154.2 454.9,178.3 433.1,179" fill="#00ff30" stroke="#00ff30" stroke-width="0.8"/>
<polygon points="454,154.2 475.8,153.4 476.7,177.5 454.9,178.3" fill="#00ff00" stroke="#00ff00" stroke-width="0.8"/>
<polygon points="475.8,153.4 505.6,152.1 506.7,176.2 476.7,177.5" fill="#00ff30" stroke="#00ff30" stroke-width="0.8"/>
<polygon points="53.9,176.2 83.9,177.5 82.9,201.6 52.8,200.3" fill="#00ff30" stroke="#00ff30" stroke-width="0.8"/>
<polygon points="83.9,177.5 105.7,178.3 104.8,202.4 82.9,201.6" fill="#00ff00" stroke="#00ff00" stroke-width="0.8"/>
<polygon points="105.7,178.3 127.5,179 126.8,203.1 104.8,202.4" fill="#00ff30" stroke="#00ff30" stroke-width="0.8"/>
<polygon points="127.5,179 149.3,179.7 148.7,203.8 126.8,203.1" fill="#00ff88" stroke="#00ff88" stroke-width="0.8"/>
<polygon points="149.3,179.7 171.2,180.2 170.6,204.3 148.7,203.8" fill="#00ffc4" stroke="#00ffc4" stroke-width="0.8"/>
<polygon points="171.2,180.2 193,180.7 214.8,181 236.6,181.2 258.5,181.4 280.3,181.4 280.3,205.5 258.4,205.5 236.4,205.3 214.5,205.1 192.6,204.7 170.6,204.3" fill="#00ffdc" stroke="#00ffdc" stroke-width="0.8"/>
<polygon points="280.3,181.4 302.1,181.4 302.2,205.5 280.3,205.5" fill="#00ffa8" stroke="#00ffa8" stroke-width="0.8"/>
<polygon points="302.1,181.4 324,181.2 345.8,181 367.6,180.7 368,204.7 346.1,205.1 324.2,205.3 302.2,205.5" fill="#00ffc4" stroke="#00ffc4" stroke-width="0.8"/>
<polygon points="367.6,180.7 389.4,180.2 390,204.3 368,204.7" fill="#00ffa8" stroke="#00ffa8" stroke-width="0.8"/>
<polygon points="389.4,180.2 411.3,179.7 411.9,203.8 390,204.3" fill="#00ff60" stroke="#00ff60" stroke-width="0.8"/>
<polygon points="411.3,179.7 433.1,179 454.9,178.3 455.8,202.4 433.8,203.1 411.9,203.8" fill="#00ff30" stroke="#00ff30" stroke-width="0.8"/>
<polygon points="454.9,178.3 480.8,177.3 506.7,176.2 507.8,200.3 481.8,201.4 455.8,202.4" fill="#00ff00" stroke="#00ff00" stroke-width="0.8"/>
<polygon points="52.8,200.3 82.9,201.6 81.9,225.6 51.7,224.3" fill="#00ffa8" stroke="#00ffa8" stroke-width="0.8"/>
<polygon points="82.9,201.6 104.8,202.4 104,226.5 81.9,225.6" fill="#00ff60" stroke="#00ff60" stroke-width="0.8"/>
<polygon points="104.8,202.4 126.8,203.1 126,227.2 104,226.5" fill="#00ff30" stroke="#00ff30" stroke-width="0.8"/>
<polygon points="126.8,203.1 148.7,203.8 148,227.8 126,227.2" fill="#00ff88" stroke="#00ff88" stroke-width="0.8"/>
<polygon points="148.7,203.8 170.6,204.3 192.6,204.7 192.1,228.8 170.1,228.4 148,227.8" fill="#00ffc4" stroke="#00ffc4" stroke-width="0.8"/>
<polygon points="192.6,204.7 214.5,205.1 236.4,205.3 258.4,205.5 280.3,205.5 302.2,205.5 324.2,205.3 346.1,205.1 346.4,229.2 324.4,229.4 302.3,229.6 280.3,229.6 258.3,229.6 236.2,229.4 214.2,229.2 192.1,228.8" fill="#00ffa8" stroke="#00ffa8" stroke-width="0.8"/>
<polygon points="346.1,205.1 368,204.7 390,204.3 390.5,228.4 368.5,228.8 346.4,229.2" fill="#00ffc4" stroke="#00ffc4" stroke-width="0.8"/>
<polygon points="390,204.3 411.9,203.8 412.6,227.8 390.5,228.4" fill="#00ffa8" stroke="#00ffa8" stroke-width="0.8"/>
<polygon points="411.9,203.8 433.8,203.1 434.6,227.2 412.6,227.8" fill="#00ff88" stroke="#00ff88" stroke-width="0.8"/>
<polygon points="433.8,203.1 458.5,202.3 483.2,201.3 507.8,200.3 508.9,224.3 484.2,225.4 459.4,226.4 434.6,227.2" fill="#00ff60" stroke="#00ff60" stroke-width="0.8"/>
<polygon points="51.7,224.3 81.9,225.6 81,249.7 50.5,248.4" fill="#00ffc4" stroke="#00ffc4" stroke-width="0.8"/>
<polygon points="81.9,225.6 104,226.5 103.1,250.5 81,249.7" fill="#00ff88" stroke="#00ff88" stroke-width="0.8"/>
<polygon points="104,226.5 126,227.2 125.3,251.3 103.1,250.5" fill="#00ff30" stroke="#00ff30" stroke-width="0.8"/>
<polygon points="126,227.2 148,227.8 147.4,251.9 125.3,251.3" fill="#00ffa8" stroke="#00ffa8" stroke-width="0.8"/>
<polygon points="148,227.8 170.1,228.4 169.5,252.5 147.4,251.9" fill="#00ffdc" stroke="#00ffdc" stroke-width="0.8"/>
<polygon points="170.1,228.4 192.1,228.8 191.7,252.9 169.5,252.5" fill="#00ffc4" stroke="#00ffc4" stroke-width="0.8"/>
<polygon points="192.1,228.8 214.2,229.2 236.2,229.4 236,253.5 213.8,253.2 191.7,252.9" fill="#00ffa8" stroke="#00ffa8" stroke-width="0.8"/>
<polygon points="236.2,229.4 258.3,229.6 280.3,229.6 280.3,253.7 258.1,253.6 236,253.5" fill="#00ff88" stroke="#00ff88" stroke-width="0.8"/>
<polygon points="280.3,229.6 302.3,229.6 324.4,229.4 324.6,253.5 302.5,253.6 280.3,253.7" fill="#00ffa8" stroke="#00ffa8" stroke-width="0.8"/>
<polygon points="324.4,229.4 346.4,229.2 346.8,253.2 324.6,253.5" fill="#00ffc4" stroke="#00ffc4" stroke-width="0.8"/>
<polygon points="346.4,229.2 368.5,228.8 390.5,228.4 391.1,252.5 368.9,252.9 346.8,253.2" fill="#00ffdc" stroke="#00ffdc" stroke-width="0.8"/>
<polygon points="390.5,228.4 412.6,227.8 413.2,251.9 391.1,252.5" fill="#00ffa8" stroke="#00ffa8" stroke-width="0.8"/>
<polygon points="412.6,227.8 434.6,227.2 435.3,251.3 413.2,251.9" fill="#00ff88" stroke="#00ff88" stroke-width="0.8"/>
<polygon points="434.6,227.2 456.6,226.5 457.5,250.5 435.3,251.3" fill="#00ff60" stroke="#00ff60" stroke-width="0.8"/>
<polygon points="456.6,226.5 482.8,225.5 508.9,224.3 510.1,248.4 483.8,249.5 457.5,250.5" fill="#00ff30" stroke="#00ff30" stroke-width="0.8"/>
<polygon points="50.5,248.4 75.4,249.5 100.3,250.4 125.3,251.3 124.5,275.3 99.5,274.5 74.5,273.5 49.4,272.4" fill="#00ffdc" stroke="#00ffdc" stroke-width="0.8"/>
<polygon points="125.3,251.3 147.4,251.9 146.8,276 124.5,275.3" fill="#00f4f4" stroke="#00f4f4" stroke-width="0.8"/>
<polygon points="147.4,251.9 169.5,252.5 169,276.5 146.8,276" fill="#00e0ff" stroke="#00e0ff" stroke-width="0.8"/>
<polygon points="169.5,252.5 191.7,252.9 191.3,277 169,276.5" fill="#00ffc4" stroke="#00ffc4" stroke-width="0.8"/>
<polygon points="191.7,252.9 213.8,253.2 213.5,277.3 191.3,277" fill="#00ff88" stroke="#00ff88" stroke-width="0.8"/>
<polygon points="213.8,253.2 236,253.5 258.1,253.6 258,277.7 235.8,277.6 213.5,277.3" fill="#00ffa8" stroke="#00ffa8" stroke-width="0.8"/>
<polygon points="258.1,253.6 280.3,253.7 280.3,277.8 258,277.7" fill="#00ff88" stroke="#00ff88" stroke-width="0.8"/>
<polygon points="280.3,253.7 302.5,253.6 324.6,253.5 324.8,277.6 302.6,277.7 280.3,277.8" fill="#00ffa8" stroke="#00ffa8" stroke-width="0.8"/>
<polygon points="324.6,253.5 346.8,253.2 347.1,277.3 324.8,277.6" fill="#00ffc4" stroke="#00ffc4" stroke-width="0.8"/>
<polygon points="346.8,253.2 368.9,252.9 369.3,277 347.1,277.3" fill="#00ffdc" stroke="#00ffdc" stroke-width="0.8"/>
<polygon points="368.9,252.9 391.1,252.5 391.6,276.5 369.3,277" fill="#00f4f4" stroke="#00f4f4" stroke-width="0.8"/>
<polygon points="391.1,252.5 413.2,251.9 413.8,276 391.6,276.5" fill="#00ffc4" stroke="#00ffc4" stroke-width="0.8"/>
<polygon points="413.2,251.9 435.3,251.3 436.1,275.3 413.8,276" fill="#00ff88" stroke="#00ff88" stroke-width="0.8"/>
<polygon points="435.3,251.3 457.5,250.5 458.3,274.6 436.1,275.3" fill="#00ff60" stroke="#00ff60" stroke-width="0.8"/>
<polygon points="457.5,250.5 483.8,249.5 510.1,248.4 511.2,272.4 484.8,273.6 458.3,274.6" fill="#00ff30" stroke="#00ff30" stroke-width="0.8"/>
<polygon points="49.4,272.4 80,273.8 79,297.8 48.3,296.5" fill="#00ffc4" stroke="#00ffc4" stroke-width="0.8"/>
<polygon points="80,273.8 102.3,274.6 101.4,298.7 79,297.8" fill="#00ff88" stroke="#00ff88" stroke-width="0.8"/>
<polygon points="102.3,274.6 124.5,275.3 123.8,299.4 101.4,298.7" fill="#00ffc4" stroke="#00ffc4" stroke-width="0.8"/>
<polygon points="124.5,275.3 146.8,276 146.1,300.1 123.8,299.4" fill="#00ffdc" stroke="#00ffdc" stroke-width="0.8"/>
<polygon points="146.8,276 169,276.5 191.3,277 190.8,301.1 168.5,300.6 146.1,300.1" fill="#00f4f4" stroke="#00f4f4" stroke-width="0.8"/>
<polygon points="191.3,277 213.5,277.3 235.8,277.6 235.6,301.7 213.2,301.4 190.8,301.1" fill="#00ffc4" stroke="#00ffc4" stroke-width="0.8"/>
<polygon points="235.8,277.6 258,277.7 280.3,277.8 280.3,301.9 257.9,301.8 235.6,301.7" fill="#00ffa8" stroke="#00ffa8" stroke-width="0.8"/>
<polygon points="280.3,277.8 302.6,277.7 302.7,301.8 280.3,301.9" fill="#00ff88" stroke="#00ff88" stroke-width="0.8"/>
<polygon points="302.6,277.7 324.8,277.6 347.1,277.3 369.3,277 391.6,276.5 413.8,276 414.5,300.1 392.1,300.6 369.8,301.1 347.4,301.4 325,301.7 302.7,301.8" fill="#00ffc4" stroke="#00ffc4" stroke-width="0.8"/>
<polygon points="413.8,276 436.1,275.3 458.3,274.6 459.2,298.7 436.8,299.4 414.5,300.1" fill="#00ffa8" stroke="#00ffa8" stroke-width="0.8"/>
<polygon points="458.3,274.6 484.8,273.6 511.2,272.4 512.3,296.5 485.7,297.7 459.2,298.7" fill="#00ff60" stroke="#00ff60" stroke-width="0.8"/>
<polygon points="48.3,296.5 79,297.8 78.1,321.9 47.2,320.6" fill="#00ffc4" stroke="#00ffc4" stroke-width="0.8"/>
<polygon points="79,297.8 101.4,298.7 100.5,322.7 78.1,321.9" fill="#00ffa8" stroke="#00ffa8" stroke-width="0.8"/>
<polygon points="101.4,298.7 123.8,299.4 123,323.5 100.5,322.7" fill="#00ff88" stroke="#00ff88" stroke-width="0.8"/>
<polygon points="123.8,299.4 146.1,300.1 145.5,324.2 123,323.5" fill="#00ffc4" stroke="#00ffc4" stroke-width="0.8"/>
<polygon points="146.1,300.1 168.5,300.6 167.9,324.7 145.5,324.2" fill="#00ffdc" stroke="#00ffdc" stroke-width="0.8"/>
<polygon points="168.5,300.6 190.8,301.1 213.2,301.4 212.9,325.5 190.4,325.2 167.9,324.7" fill="#00ffa8" stroke="#00ffa8" stroke-width="0.8"/>
<polygon points="213.2,301.4 235.6,301.7 257.9,301.8 257.8,325.9 235.4,325.8 212.9,325.5" fill="#00ffc4" stroke="#00ffc4" stroke-width="0.8"/>
<polygon points="257.9,301.8 280.3,301.9 280.3,326 257.8,325.9" fill="#00ffa8" stroke="#00ffa8" stroke-width="0.8"/>
<polygon points="280.3,301.9 302.7,301.8 302.8,325.9 280.3,326" fill="#00ff88" stroke="#00ff88" stroke-width="0.8"/>
<polygon points="302.7,301.8 325,301.7 325.2,325.8 302.8,325.9" fill="#00ffa8" stroke="#00ffa8" stroke-width="0.8"/>
<polygon points="325,301.7 347.4,301.4 369.8,301.1 392.1,300.6 414.5,300.1 436.8,299.4 437.6,323.5 415.1,324.2 392.7,324.7 370.2,325.2 347.7,325.5 325.2,325.8" fill="#00ffc4" stroke="#00ffc4" stroke-width="0.8"/>
<polygon points="436.8,299.4 459.2,298.7 460.1,322.7 437.6,323.5" fill="#00ffa8" stroke="#00ffa8" stroke-width="0.8"/>
<polygon points="459.2,298.7 485.7,297.7 512.3,296.5 513.4,320.6 486.7,321.7 460.1,322.7" fill="#00ff88" stroke="#00ff88" stroke-width="0.8"/>
<polygon points="47.2,320.6 78.1,321.9 77.1,346 46.1,344.6" fill="#00ffc4" stroke="#00ffc4" stroke-width="0.8"/>
<polygon points="78.1,321.9 100.5,322.7 123,323.5 122.3,347.6 99.7,346.8 77.1,346" fill="#00ffa8" stroke="#00ffa8" stroke-width="0.8"/>
<polygon points="123,323.5 145.5,324.2 144.8,348.2 122.3,347.6" fill="#00ff88" stroke="#00ff88" stroke-width="0.8"/>
<polygon points="145.5,324.2 167.9,324.7 167.4,348.8 144.8,348.2" fill="#00ffc4" stroke="#00ffc4" stroke-width="0.8"/>
<polygon points="167.9,324.7 190.4,325.2 190,349.2 167.4,348.8" fill="#00ffa8" stroke="#00ffa8" stroke-width="0.8"/>
<polygon points="190.4,325.2 212.9,325.5 235.4,325.8 257.8,325.9 257.7,350 235.1,349.8 212.6,349.6 190,349.2" fill="#00ffc4" stroke="#00ffc4" stroke-width="0.8"/>
<polygon points="257.8,325.9 280.3,326 302.8,325.9 302.9,350 280.3,350 257.7,350" fill="#00ff88" stroke="#00ff88" stroke-width="0.8"/>
<polygon points="302.8,325.9 325.2,325.8 325.5,349.8 302.9,350" fill="#00ff60" stroke="#00ff60" stroke-width="0.8"/>
<polygon points="325.2,325.8 347.7,325.5 348,349.6 325.5,349.8" fill="#00ff88" stroke="#00ff88" stroke-width="0.8"/>
<polygon points="347.7,325.5 370.2,325.2 392.7,324.7 415.1,324.2 437.6,323.5 438.3,347.6 415.8,348.2 393.2,348.8 370.6,349.2 348,349.6" fill="#00ffa8" stroke="#00ffa8" stroke-width="0.8"/>
<polygon points="437.6,323.5 462.9,322.6 488.1,321.7 513.4,320.6 514.5,344.6 489.1,345.7 463.7,346.7 438.3,347.6" fill="#00ff60" stroke="#00ff60" stroke-width="0.8"/>
<polygon points="46.1,344.6 77.1,346 76.1,370 45,368.7" fill="#00ffa8" stroke="#00ffa8" stroke-width="0.8"/>
<polygon points="77.1,346 99.7,346.8 98.8,370.9 76.1,370" fill="#00ffc4" stroke="#00ffc4" stroke-width="0.8"/>
<polygon points="99.7,346.8 122.3,347.6 144.8,348.2 144.2,372.3 121.5,371.6 98.8,370.9" fill="#00ffdc" stroke="#00ffdc" stroke-width="0.8"/>
<polygon points="144.8,348.2 167.4,348.8 190,349.2 212.6,349.6 235.1,349.8 234.9,373.9 212.2,373.7 189.5,373.3 166.9,372.9 144.2,372.3" fill="#00ffc4" stroke="#00ffc4" stroke-width="0.8"/>
<polygon points="235.1,349.8 257.7,350 257.6,374.1 234.9,373.9" fill="#00ffa8" stroke="#00ffa8" stroke-width="0.8"/>
<polygon points="257.7,350 280.3,350 280.3,374.1 257.6,374.1" fill="#00ffc4" stroke="#00ffc4" stroke-width="0.8"/>
<polygon points="280.3,350 302.9,350 303,374.1 280.3,374.1" fill="#00ff60" stroke="#00ff60" stroke-width="0.8"/>
<polygon points="302.9,350 325.5,349.8 325.7,373.9 303,374.1" fill="#00ff88" stroke="#00ff88" stroke-width="0.8"/>
<polygon points="325.5,349.8 348,349.6 370.6,349.2 371.1,373.3 348.4,373.7 325.7,373.9" fill="#00ff30" stroke="#00ff30" stroke-width="0.8"/>
<polygon points="370.6,349.2 393.2,348.8 393.7,372.9 371.1,373.3" fill="#00ff60" stroke="#00ff60" stroke-width="0.8"/>
<polygon points="393.2,348.8 415.8,348.2 438.3,347.6 439.1,371.6 416.4,372.3 393.7,372.9" fill="#00ff88" stroke="#00ff88" stroke-width="0.8"/>
<polygon points="438.3,347.6 463.7,346.7 489.1,345.7 514.5,344.6 515.6,368.7 490.1,369.8 464.6,370.8 439.1,371.6" fill="#00ff60" stroke="#00ff60" stroke-width="0.8"/>
<polygon points="45,368.7 71.9,369.9 98.8,370.9 98,395 70.9,393.9 43.9,392.7" fill="#00ffdc" stroke="#00ffdc" stroke-width="0.8"/>
<polygon points="98.8,370.9 121.5,371.6 120.7,395.7 98,395" fill="#00f4f4" stroke="#00f4f4" stroke-width="0.8"/>
<polygon points="121.5,371.6 144.2,372.3 143.5,396.4 120.7,395.7" fill="#00e0ff" stroke="#00e0ff" stroke-width="0.8"/>
<polygon points="144.2,372.3 166.9,372.9 189.5,373.3 189.1,397.4 166.3,396.9 143.5,396.4" fill="#00f4f4" stroke="#00f4f4" stroke-width="0.8"/>
<polygon points="189.5,373.3 212.2,373.7 211.9,397.8 189.1,397.4" fill="#00ffc4" stroke="#00ffc4" stroke-width="0.8"/>
<polygon points="212.2,373.7 234.9,373.9 234.7,398 211.9,397.8" fill="#00ffa8" stroke="#00ffa8" stroke-width="0.8"/>
<polygon points="234.9,373.9 257.6,374.1 280.3,374.1 280.3,398.2 257.5,398.2 234.7,398" fill="#00ff88" stroke="#00ff88" stroke-width="0.8"/>
<polygon points="280.3,374.1 303,374.1 303.1,398.2 280.3,398.2" fill="#00ff30" stroke="#00ff30" stroke-width="0.8"/>
<polygon points="303,374.1 325.7,373.9 348.4,373.7 348.7,397.8 325.9,398 303.1,398.2" fill="#00ff60" stroke="#00ff60" stroke-width="0.8"/>
<polygon points="348.4,373.7 371.1,373.3 371.5,397.4 348.7,397.8" fill="#00ff30" stroke="#00ff30" stroke-width="0.8"/>
<polygon points="371.1,373.3 393.7,372.9 416.4,372.3 417.1,396.4 394.3,396.9 371.5,397.4" fill="#00ff60" stroke="#00ff60" stroke-width="0.8"/>
<polygon points="416.4,372.3 439.1,371.6 439.9,395.7 417.1,396.4" fill="#00ff88" stroke="#00ff88" stroke-width="0.8"/>
<polygon points="439.1,371.6 464.6,370.8 490.1,369.8 515.6,368.7 516.7,392.7 491.1,393.9 465.5,394.9 439.9,395.7" fill="#00ff60" stroke="#00ff60" stroke-width="0.8"/>
<polygon points="43.9,392.7 75.2,394.1 73.8,429 42.3,427.6" fill="#00f4f4" stroke="#00f4f4" stroke-width="0.8"/>
<polygon points="75.2,394.1 98,395 120.7,395.7 143.5,396.4 166.3,396.9 165.5,431.9 142.6,431.3 119.7,430.6 96.7,429.9 73.8,429" fill="#00e0ff" stroke="#00e0ff" stroke-width="0.8"/>
<polygon points="166.3,396.9 189.1,397.4 188.5,432.3 165.5,431.9" fill="#00f4f4" stroke="#00f4f4" stroke-width="0.8"/>
<polygon points="189.1,397.4 211.9,397.8 211.4,432.7 188.5,432.3" fill="#00ffdc" stroke="#00ffdc" stroke-width="0.8"/>
<polygon points="211.9,397.8 234.7,398 234.4,432.9 211.4,432.7" fill="#00ffc4" stroke="#00ffc4" stroke-width="0.8"/>
<polygon points="234.7,398 257.5,398.2 280.3,398.2 280.3,433.1 257.3,433.1 234.4,432.9" fill="#00ffa8" stroke="#00ffa8" stroke-width="0.8"/>
<polygon points="280.3,398.2 303.1,398.2 325.9,398 326.2,432.9 303.3,433.1 280.3,433.1" fill="#00ff30" stroke="#00ff30" stroke-width="0.8"/>
<polygon points="325.9,398 348.7,397.8 371.5,397.4 394.3,396.9 395.1,431.9 372.1,432.3 349.2,432.7 326.2,432.9" fill="#00ff60" stroke="#00ff60" stroke-width="0.8"/>
<polygon points="394.3,396.9 417.1,396.4 439.9,395.7 440.9,430.6 418,431.3 395.1,431.9" fill="#00ff88" stroke="#00ff88" stroke-width="0.8"/>
<polygon points="439.9,395.7 465.5,394.9 491.1,393.9 516.7,392.7 518.3,427.6 492.6,428.8 466.7,429.8 440.9,430.6" fill="#00ff60" stroke="#00ff60" stroke-width="0.8"/>
</g>
<polygon points="478.6,44.6 484.5,57.4 494.0,68.3 484.5,98.6 496.1,104.4 487.6,137.9 497.4,143.7 487.6,167.2 498.3,171.2 489.7,200.6 500.4,204.5 489.7,237.8 501.7,245.5 438.8,418.6 522.1,427.5 522.1,44.6" fill="#fff"/>
<polygon points="65,66 67.6,66 69.8,75 64.6,75" fill="#fff"/><polygon points="63.9,90 66.5,90 68.7,99 63.5,99" fill="#fff"/><polygon points="62.9,114 65.5,114 67.7,123 62.5,123" fill="#fff"/><polygon points="61.8,138 64.4,138 66.6,147 61.4,147" fill="#fff"/><polygon points="60.7,162 63.3,162 65.5,171 60.3,171" fill="#fff"/><polygon points="59.7,186 62.3,186 64.5,195 59.3,195" fill="#fff"/><polygon points="58.6,210 61.2,210 63.4,219 58.2,219" fill="#fff"/><polygon points="57.5,234 60.1,234 62.3,243 57.1,243" fill="#fff"/><polygon points="56.4,258 59,258 61.2,267 56,267" fill="#fff"/><polygon points="55.4,282 58,282 60.2,291 55,291" fill="#fff"/><polygon points="54.3,306 56.9,306 59.1,315 53.9,315" fill="#fff"/><polygon points="53.2,330 55.8,330 58,339 52.8,339" fill="#fff"/><polygon points="52.2,354 54.8,354 57,363 51.8,363" fill="#fff"/><polygon points="51.1,378 53.7,378 55.9,387 50.7,387" fill="#fff"/><polygon points="50,402 52.6,402 54.8,411 49.6,411" fill="#fff"/>
</g>
<g fill="none" stroke="#000" stroke-width="1" stroke-dasharray="1 1.6" opacity="0.8"><polyline points="173.8,59.8 165.8,421"/><polyline points="280.3,61 280.3,422.3"/><polyline points="386.8,59.8 394.8,421"/><polyline points="54.6,345 77.1,346 99.7,346.8 122.3,347.6 144.8,348.2 167.4,348.8 190,349.2 212.6,349.6 235.1,349.8 257.7,350 280.3,350 302.9,350 325.5,349.8 348,349.6 370.6,349.2 393.2,348.8 415.8,348.2 438.3,347.6 460.9,346.8 483.5,346 506,345"/><polyline points="57.8,272.8 80,273.8 102.3,274.6 124.5,275.3 146.8,276 169,276.5 191.3,277 213.5,277.3 235.8,277.6 258,277.7 280.3,277.8 302.6,277.7 324.8,277.6 347.1,277.3 369.3,277 391.6,276.5 413.8,276 436.1,275.3 458.3,274.6 480.6,273.8 502.8,272.8"/><polyline points="61,200.6 82.9,201.6 104.8,202.4 126.8,203.1 148.7,203.8 170.6,204.3 192.6,204.7 214.5,205.1 236.4,205.3 258.4,205.5 280.3,205.5 302.2,205.5 324.2,205.3 346.1,205.1 368,204.7 390,204.3 411.9,203.8 433.8,203.1 455.8,202.4 477.7,201.6 499.6,200.6"/><polyline points="64.2,128.4 85.8,129.4 107.4,130.2 129,130.9 150.6,131.5 172.2,132.1 193.8,132.5 215.5,132.8 237.1,133.1 258.7,133.2 280.3,133.3 301.9,133.2 323.5,133.1 345.1,132.8 366.8,132.5 388.4,132.1 410,131.5 431.6,130.9 453.2,130.2 474.8,129.4 496.4,128.4"/></g>
<g stroke="#222" stroke-width="1"><line x1="52.1" y1="345" x2="58.9" y2="345.2"/><line x1="508.5" y1="345" x2="501.7" y2="345.2"/><line x1="55.3" y1="272.8" x2="62.1" y2="273"/><line x1="505.3" y1="272.8" x2="498.5" y2="273"/><line x1="58.5" y1="200.6" x2="65.3" y2="200.8"/><line x1="502.1" y1="200.6" x2="495.3" y2="200.8"/><line x1="61.7" y1="128.4" x2="68.5" y2="128.6"/><line x1="498.9" y1="128.4" x2="492.1" y2="128.6"/><line x1="165.8" y1="423" x2="165.9" y2="416.7"/><line x1="173.8" y1="57.8" x2="173.7" y2="64.1"/><line x1="280.3" y1="424.3" x2="280.3" y2="418"/><line x1="280.3" y1="59" x2="280.3" y2="65.3"/><line x1="394.8" y1="423" x2="394.7" y2="416.7"/><line x1="386.8" y1="57.8" x2="386.9" y2="64.1"/></g>
<g fill="none" stroke="#000" stroke-width="1.7" stroke-linejoin="round">
<polyline points="305.1,221.3 304.4,220.0 303.5,218.5 303.0,216.9 301.7,215.8 301.0,214.3 298.9,213.1 298.2,211.2 300.3,209.3 302.0,209.2 303.7,208.7 305.8,206.8 307.4,206.0 309.2,206.2 312.0,205.6 312.7,204.0 313.3,202.4 314.7,201.2 316.8,201.8 318.1,203.0 317.9,204.6 317.4,206.2 318.1,208.7 319.5,211.2 320.9,212.2 321.6,213.7 322.9,215.0 324.3,216.2 326.1,217.5 327.1,219.4 328.4,221.3 330.5,223.1 331.6,224.3 332.6,225.7 334.4,225.8 336.0,226.9 337.6,226.5 339.2,226.8 340.8,226.9 342.8,227.6 344.9,227.5 347.1,227.8 349.1,228.8 351.2,229.1 353.2,230.0 354.9,229.6 356.6,228.8 358.5,228.6 360.1,227.5 362.1,228.2 362.8,230.0 360.7,231.9 358.7,233.8 357.3,234.4 354.6,235.1 353.1,235.9 351.8,237.0 350.5,238.0 349.1,238.8 347.7,241.4 347.4,244.5 348.4,247.0 347.5,248.5 347.7,250.1 349.1,252.0 350.8,252.9 351.8,254.5 352.9,256.7 354.6,258.3 355.2,260.5"/>
<polyline points="305.1,221.3 302.3,221.9 299.6,222.5 296.8,221.9 294.1,220.6 293.4,221.9 292.9,223.5 292.0,225.0 291.3,226.5 290.0,227.5 288.8,228.8 287.2,229.4 284.5,230.7 283.2,231.8 281.7,232.6 279.0,233.8 276.2,233.2 274.4,233.2 272.8,233.8 271.6,235.0 270.0,235.7 268.6,236.6 267.3,237.6 266.1,239.1 265.2,240.7 265.9,243.2 267.1,244.4 268.0,245.8 269.0,247.0 270.0,248.3 271.4,249.2 272.1,250.8 274.2,252.7 276.2,254.5 277.6,257.1 278.4,258.7 278.3,260.5"/>
<polyline points="305.1,221.3 306.3,222.5 306.7,224.3 307.8,225.7 308.6,227.1 309.4,228.5 309.9,230.0 310.6,232.6 309.2,235.1 307.8,237.0 306.7,238.2 305.8,239.5 303.7,240.7 301.6,240.8 299.6,240.7 298.3,241.9 296.8,242.6 296.2,244.4 296.1,246.4 296.3,248.0 296.8,249.5 298.1,250.6 298.9,252.0 300.6,253.4 302.3,254.5 305.1,255.8 306.1,257.1 307.1,258.3 307.8,260.5"/>
<polyline points="327.1,219.4 325.7,220.4 325.0,221.9 322.9,223.1 320.9,225.0 319.5,227.5 318.9,229.7 318.8,231.9 318.8,233.6 317.8,235.2 318.1,237.0 318.9,238.8 318.8,240.7 319.3,242.6 319.5,244.5 318.9,246.3 318.8,248.3 319.5,250.1 319.5,252.0 320.2,253.6 320.9,255.2 322.3,257.1 323.4,258.6 323.6,260.5"/>
<polyline points="347.7,250.1 345.6,250.3 343.6,250.8 341.4,251.1 339.4,252.0 337.7,252.9 336.0,253.9 334.7,254.9 333.9,256.4 333.4,258.5 332.6,260.5"/>
<polyline points="277.6,255.8 279.7,255.1 281.7,253.9 283.8,253.7 285.8,253.3 287.9,252.4 290.0,251.4 292.0,250.7 294.1,250.1 296.8,249.5"/>
<polyline points="351.1,253.5 351.7,255.0 352.6,256.4 353.9,257.4 354.9,258.7 355.7,260.1 356.8,261.3 357.5,264.0 356.8,265.6 355.4,266.6 353.1,267.4 351.1,268.6 348.8,269.4 346.8,270.6 344.4,271.0 342.4,272.5 340.2,272.8 338.1,273.8 336.4,274.4 334.5,274.5 332.7,275.0 330.9,275.2 328.7,275.3 326.6,275.8 324.9,276.7 323.0,276.5 323.0,278.4 323.4,280.1 323.7,281.7 325.4,283.1 326.6,285.0 328.3,286.0 329.5,287.6 330.8,288.7 331.2,290.5 332.4,291.6 332.4,293.6 331.6,295.5 331.6,297.6 330.9,299.5 329.6,300.9 328.1,302.1 326.4,302.8 325.2,304.1 323.2,305.5 320.9,306.1 318.0,307.4 315.1,308.0 312.2,309.3 309.3,310.7 306.5,312.0 304.3,314.0 303.6,316.6 302.2,317.9 300.0,317.2 297.8,315.3 296.4,314.3 295.0,313.3 292.8,311.3 292.1,308.7 289.2,307.4 286.3,307.4 283.5,306.7 281.6,307.0 279.9,307.4 277.9,307.6 276.3,308.7 273.4,310.0 270.5,311.3 267.6,312.6 264.8,311.3 263.6,309.7 261.9,308.7 260.7,307.4 259.0,306.7 256.1,306.1 253.2,305.4 252.0,303.9 251.1,302.1 250.6,300.2 250.4,298.2 249.9,296.6 249.6,294.9 248.2,292.9 250.4,291.6 252.5,290.3 251.1,287.6 249.6,285.0 248.9,282.8 247.5,281.1 248.3,279.2 248.2,277.1 249.0,275.6 250.4,274.5 251.6,272.9 253.2,271.9 254.5,270.6 256.1,269.9 258.2,268.6 260.4,267.9 262.6,267.2 264.8,266.6 267.6,265.9 270.5,266.6 271.7,265.4 272.7,264.0 273.4,261.3 274.8,258.7 276.3,256.1 277.0,253.5"/>
<polyline points="250.4,291.6 251.7,290.5 253.0,289.4 254.7,289.0 256.1,288.0 257.5,287.1 259.0,286.3 261.2,285.7 263.3,285.0 265.6,285.0 267.6,284.0 269.8,284.4 271.9,284.4 274.1,285.0 276.3,285.7 278.4,286.8 280.6,287.6 283.5,288.3 285.6,287.6"/>
<polyline points="272.7,264.0 273.6,266.0 274.8,267.9 276.6,268.6 277.4,270.5 279.1,271.2 280.8,272.5 282.7,273.2 284.9,271.9 286.6,270.9 287.8,269.2 289.4,268.2 290.6,266.6 292.2,267.8 293.5,269.2 295.0,270.5 296.4,271.9 298.6,273.8 300.0,275.2 302.2,274.5 305.0,273.2 306.2,271.5 307.9,270.6"/>
<polyline points="306.5,253.5 306.6,255.2 307.4,256.9 307.2,258.7 307.4,260.5 307.0,262.3 306.5,264.0 307.3,265.6 307.6,267.4 307.9,269.2 309.4,270.2 310.1,271.9 312.2,273.2 314.0,273.7 315.1,275.2 318.0,276.5 319.7,276.1 321.3,276.0 323.0,276.5"/>
<polyline points="330.9,253.5 331.4,255.0 332.0,256.5 331.4,258.3 332.0,259.8 332.4,261.3 333.2,263.0 333.6,264.8 333.8,266.6 334.2,268.6 334.3,270.5 334.8,272.5 334.5,274.5"/>
<polyline points="306.5,258.7 308.3,259.3 310.2,259.7 312.2,259.4 314.4,259.0 316.5,258.7 318.7,258.0 320.9,257.4 322.9,256.3 325.2,256.1 328.1,256.7 329.4,258.0 330.1,259.7 330.9,261.3"/>
<polyline points="284.9,271.9 285.5,273.8 285.6,275.8 286.4,277.4 287.8,278.4 289.5,279.5 290.6,281.1 291.9,282.9 292.1,285.0 290.4,285.5 289.2,286.7 287.8,287.6 284.9,289.0 286.0,290.8 286.3,292.9 288.5,293.6 290.6,294.2 293.5,292.9 295.5,291.8 297.8,291.6 300.0,291.0 302.2,290.3 304.4,290.5 306.5,289.6 308.7,289.7 310.8,289.0 313.7,287.6 315.1,285.0 315.3,283.3 314.8,281.5 315.1,279.8 313.7,277.1 310.8,275.8 307.9,274.5 305.0,273.2"/>
<polyline points="293.5,292.9 293.7,294.9 293.5,296.9 293.5,298.9 292.8,300.8 292.3,302.5 292.3,304.3 292.1,306.1 292.1,308.7"/>
<polyline points="309.3,290.3 310.1,292.9 310.8,295.5 312.0,297.1 313.7,298.2 315.2,299.3 316.5,300.8 318.2,301.9 319.4,303.4 320.9,306.1"/>
<polyline points="300.0,275.2 300.0,276.9 300.7,278.4 299.5,279.9 299.3,281.7 298.5,283.3 298.6,285.0 299.4,286.8 300.7,288.3 302.2,290.3"/>
<polyline points="315.1,285.0 316.7,284.4 318.1,283.5 319.4,282.4 320.4,280.9 321.8,279.8 323.0,278.4"/>
<circle cx="300.7" cy="284.4" r="2.6" fill="#000" stroke="none"/>
<rect x="310.6" y="270.6" width="3.2" height="4.8" fill="#000" stroke="none"/>
</g>
<polygon points="67.4,56.3 78.1,56.7 88.7,57.2 99.3,57.6 110,58 120.6,58.3 131.3,58.7 141.9,59 152.6,59.3 163.2,59.6 173.8,59.8 184.5,60 195.1,60.2 205.8,60.4 216.4,60.6 227.1,60.7 237.7,60.8 248.4,60.9 259,61 269.7,61 280.3,61 290.9,61 301.6,61 312.2,60.9 322.9,60.8 333.5,60.7 344.2,60.6 354.8,60.4 365.5,60.2 376.1,60 386.8,59.8 397.4,59.6 408,59.3 418.7,59 429.3,58.7 440,58.3 450.6,58 461.3,57.6 471.9,57.2 482.5,56.7 493.2,56.3 494.8,92.3 496.4,128.4 498,164.5 499.6,200.6 501.2,236.7 502.8,272.8 504.4,308.9 506,345 507.7,381.1 509.3,417.2 497.8,417.7 486.4,418.2 474.9,418.6 463.5,419 452.1,419.4 440.6,419.8 429.2,420.1 417.7,420.5 406.3,420.8 394.8,421 383.4,421.3 371.9,421.5 360.5,421.7 349,421.8 337.6,422 326.1,422.1 314.7,422.2 303.2,422.2 291.8,422.3 280.3,422.3 268.8,422.3 257.4,422.2 245.9,422.2 234.5,422.1 223,422 211.6,421.8 200.1,421.7 188.7,421.5 177.2,421.3 165.8,421 154.3,420.8 142.9,420.5 131.4,420.1 120,419.8 108.5,419.4 97.1,419 85.7,418.6 74.2,418.2 62.8,417.7 51.3,417.2 52.9,381.1 54.6,345 56.2,308.9 57.8,272.8 59.4,236.7 61,200.6 62.6,164.5 64.2,128.4 65.8,92.3" fill="none" stroke="#555" stroke-width="1"/>
<g font-family="Liberation Sans, sans-serif" font-size="14.8" text-anchor="middle" fill="#000"><text x="279.3" y="12.9">LST: 2012 July 21 11:50</text><text x="279.2" y="29.3">Location: Beijing and surrounding</text><text x="278.7" y="45.7">Cloud Top Temperature</text></g>
<g font-family="Liberation Serif, serif" font-size="22.4" fill="#000">
</g></g>
<g font-family="Liberation Serif, serif" font-size="22.4" fill="#000">
<text transform="translate(548.8,65.4) scale(0.9,1)">43°N</text>
<text transform="translate(543.3,136) scale(0.9,1)">42°N</text>
<text transform="translate(540.9,207.6) scale(0.9,1)">41°N</text>
<text transform="translate(539.9,282.6) scale(0.9,1)">40°N</text>
<text transform="translate(536.8,353.9) scale(0.9,1)">39°N</text>
<text transform="translate(535.2,427.6) scale(0.9,1)">38°N</text>
<text transform="translate(566.9,447.9) scale(0.9,1)">112°E</text>
<text transform="translate(665.9,447.9) scale(0.9,1)">114°E</text>
<text transform="translate(772.5,447.9) scale(0.9,1)">116°E</text>
<text transform="translate(874.5,446.9) scale(0.9,1)">118°E</text>
<text transform="translate(972.1,445.5) scale(0.9,1)">120°E</text>
</g>
<rect x="50.3" y="470.7" width="9" height="17.3" fill="#f500ff"/>
<rect x="59" y="470.7" width="9.3" height="17.3" fill="#dc00ff"/>
<rect x="68" y="470.7" width="9.3" height="17.3" fill="#be00ff"/>
<rect x="77" y="470.7" width="9.3" height="17.3" fill="#a000ff"/>
<rect x="86" y="470.7" width="9" height="17.3" fill="#8000ff"/>
<rect x="94.7" y="470.7" width="9.2" height="17.3" fill="#6000ff"/>
<rect x="103.6" y="470.7" width="8.9" height="17.3" fill="#4000ff"/>
<rect x="112.2" y="470.7" width="9.1" height="17.3" fill="#2000ff"/>
<rect x="121" y="470.7" width="9.3" height="17.3" fill="#0000ff"/>
<rect x="130" y="470.7" width="9.1" height="17.3" fill="#0000ff"/>
<rect x="138.8" y="470.7" width="9.2" height="17.3" fill="#0030ff"/>
<rect x="147.7" y="470.7" width="9" height="17.3" fill="#0050ff"/>
<rect x="156.4" y="470.7" width="9.2" height="17.3" fill="#0068ff"/>
<rect x="165.3" y="470.7" width="9.2" height="17.3" fill="#0080ff"/>
<rect x="174.2" y="470.7" width="9.4" height="17.3" fill="#0095ff"/>
<rect x="183.3" y="470.7" width="9.2" height="17.3" fill="#00a8ff"/>
<rect x="192.2" y="470.7" width="9.1" height="17.3" fill="#00bbff"/>
<rect x="201" y="470.7" width="8.8" height="17.3" fill="#00ccff"/>
<rect x="209.5" y="470.7" width="8.8" height="17.3" fill="#00ddff"/>
<rect x="218" y="470.7" width="9.3" height="17.3" fill="#00ffff"/>
<rect x="227" y="470.7" width="9.3" height="17.3" fill="#00ffe8"/>
<rect x="236" y="470.7" width="9.3" height="17.3" fill="#00ffd0"/>
<rect x="245" y="470.7" width="9.3" height="17.3" fill="#00ffb8"/>
<rect x="254" y="470.7" width="8.9" height="17.3" fill="#00ffa0"/>
<rect x="262.6" y="470.7" width="8.7" height="17.3" fill="#00ff88"/>
<rect x="271" y="470.7" width="9.9" height="17.3" fill="#00ff70"/>
<rect x="280.6" y="470.7" width="8.7" height="17.3" fill="#00ff50"/>
<rect x="289" y="470.7" width="80.3" height="17.3" fill="#00ff00"/>
<rect x="369" y="470.7" width="8.7" height="17.3" fill="#40ff00"/>
<rect x="377.4" y="470.7" width="9.6" height="17.3" fill="#77ff00"/>
<rect x="386.7" y="470.7" width="9.2" height="17.3" fill="#aaff00"/>
<rect x="395.6" y="470.7" width="9.2" height="17.3" fill="#ccff00"/>
<rect x="404.5" y="470.7" width="8.8" height="17.3" fill="#eeff00"/>
<rect x="413" y="470.7" width="9.3" height="17.3" fill="#ffee00"/>
<rect x="422" y="470.7" width="8.9" height="17.3" fill="#ffd800"/>
<rect x="430.6" y="470.7" width="9.7" height="17.3" fill="#ffc400"/>
<rect x="440" y="470.7" width="8.9" height="17.3" fill="#ffaa00"/>
<rect x="448.6" y="470.7" width="9.3" height="17.3" fill="#ff9400"/>
<rect x="457.6" y="470.7" width="9" height="17.3" fill="#ff7c00"/>
<rect x="466.3" y="470.7" width="9.4" height="17.3" fill="#ff6400"/>
<rect x="475.4" y="470.7" width="8.9" height="17.3" fill="#ff5000"/>
<rect x="484" y="470.7" width="9.3" height="17.3" fill="#ff3800"/>
<rect x="493" y="470.7" width="8.8" height="17.3" fill="#ff2000"/>
<rect x="501.5" y="470.7" width="8.8" height="17.3" fill="#ff0000"/>
<rect x="50.3" y="470.7" width="459.7" height="17.3" fill="none" stroke="#444" stroke-width="1"/>
<line x1="50.3" y1="470.7" x2="50.3" y2="474.7" stroke="#222" stroke-width="1"/>
<line x1="50.3" y1="484" x2="50.3" y2="488" stroke="#222" stroke-width="1"/>
<text x="49.1" y="503.7" text-anchor="middle" font-family="Liberation Sans, sans-serif" font-size="14" letter-spacing="0.7">-15</text>
<line x1="193.3" y1="470.7" x2="193.3" y2="474.7" stroke="#222" stroke-width="1"/>
<line x1="193.3" y1="484" x2="193.3" y2="488" stroke="#222" stroke-width="1"/>
<text x="192.1" y="503.7" text-anchor="middle" font-family="Liberation Sans, sans-serif" font-size="14" letter-spacing="0.7">-10</text>
<line x1="337.3" y1="470.7" x2="337.3" y2="474.7" stroke="#222" stroke-width="1"/>
<line x1="337.3" y1="484" x2="337.3" y2="488" stroke="#222" stroke-width="1"/>
<text x="336.1" y="503.7" text-anchor="middle" font-family="Liberation Sans, sans-serif" font-size="14" letter-spacing="0.7">-5</text>
<line x1="481.5" y1="470.7" x2="481.5" y2="474.7" stroke="#222" stroke-width="1"/>
<line x1="481.5" y1="484" x2="481.5" y2="488" stroke="#222" stroke-width="1"/>
<text x="480.3" y="503.7" text-anchor="middle" font-family="Liberation Sans, sans-serif" font-size="14" letter-spacing="0.7">0</text>
<rect x="586.2" y="470.5" width="8.3" height="17.4" fill="#f500ff"/>
<rect x="594.2" y="470.5" width="8.6" height="17.4" fill="#dc00ff"/>
<rect x="602.5" y="470.5" width="8.6" height="17.4" fill="#be00ff"/>
<rect x="610.8" y="470.5" width="8.6" height="17.4" fill="#a000ff"/>
<rect x="619.1" y="470.5" width="8.3" height="17.4" fill="#8000ff"/>
<rect x="627.1" y="470.5" width="8.5" height="17.4" fill="#6000ff"/>
<rect x="635.3" y="470.5" width="8.2" height="17.4" fill="#4000ff"/>
<rect x="643.2" y="470.5" width="8.4" height="17.4" fill="#2000ff"/>
<rect x="651.3" y="470.5" width="8.6" height="17.4" fill="#0000ff"/>
<rect x="659.6" y="470.5" width="8.4" height="17.4" fill="#0000ff"/>
<rect x="667.7" y="470.5" width="8.5" height="17.4" fill="#0030ff"/>
<rect x="675.9" y="470.5" width="8.3" height="17.4" fill="#0050ff"/>
<rect x="683.9" y="470.5" width="8.5" height="17.4" fill="#0068ff"/>
<rect x="692.1" y="470.5" width="8.5" height="17.4" fill="#0080ff"/>
<rect x="700.3" y="470.5" width="8.7" height="17.4" fill="#0095ff"/>
<rect x="708.7" y="470.5" width="8.5" height="17.4" fill="#00a8ff"/>
<rect x="716.9" y="470.5" width="8.4" height="17.4" fill="#00bbff"/>
<rect x="725" y="470.5" width="8.1" height="17.4" fill="#00ccff"/>
<rect x="732.8" y="470.5" width="8.1" height="17.4" fill="#00ddff"/>
<rect x="740.7" y="470.5" width="8.6" height="17.4" fill="#00ffff"/>
<rect x="748.9" y="470.5" width="8.6" height="17.4" fill="#00ffe8"/>
<rect x="757.2" y="470.5" width="8.6" height="17.4" fill="#00ffd0"/>
<rect x="765.5" y="470.5" width="8.6" height="17.4" fill="#00ffb8"/>
<rect x="773.8" y="470.5" width="8.2" height="17.4" fill="#00ffa0"/>
<rect x="781.7" y="470.5" width="8" height="17.4" fill="#00ff88"/>
<rect x="789.5" y="470.5" width="9.1" height="17.4" fill="#00ff70"/>
<rect x="798.3" y="470.5" width="8" height="17.4" fill="#00ff50"/>
<rect x="806.1" y="470.5" width="74" height="17.4" fill="#00ff00"/>
<rect x="879.7" y="470.5" width="8" height="17.4" fill="#40ff00"/>
<rect x="887.5" y="470.5" width="8.9" height="17.4" fill="#77ff00"/>
<rect x="896" y="470.5" width="8.5" height="17.4" fill="#aaff00"/>
<rect x="904.2" y="470.5" width="8.5" height="17.4" fill="#ccff00"/>
<rect x="912.4" y="470.5" width="8.1" height="17.4" fill="#eeff00"/>
<rect x="920.3" y="470.5" width="8.6" height="17.4" fill="#ffee00"/>
<rect x="928.5" y="470.5" width="8.2" height="17.4" fill="#ffd800"/>
<rect x="936.5" y="470.5" width="9" height="17.4" fill="#ffc400"/>
<rect x="945.1" y="470.5" width="8.2" height="17.4" fill="#ffaa00"/>
<rect x="953" y="470.5" width="8.6" height="17.4" fill="#ff9400"/>
<rect x="961.3" y="470.5" width="8.3" height="17.4" fill="#ff7c00"/>
<rect x="969.4" y="470.5" width="8.7" height="17.4" fill="#ff6400"/>
<rect x="977.7" y="470.5" width="8.2" height="17.4" fill="#ff5000"/>
<rect x="985.7" y="470.5" width="8.6" height="17.4" fill="#ff3800"/>
<rect x="993.9" y="470.5" width="8.1" height="17.4" fill="#ff2000"/>
<rect x="1001.8" y="470.5" width="8.1" height="17.4" fill="#ff0000"/>
<rect x="586.2" y="470.5" width="423.4" height="17.4" fill="none" stroke="#444" stroke-width="1"/>
<line x1="586.2" y1="470.5" x2="586.2" y2="474.5" stroke="#222" stroke-width="1"/>
<line x1="586.2" y1="483.9" x2="586.2" y2="487.9" stroke="#222" stroke-width="1"/>
<text x="585" y="503.7" text-anchor="middle" font-family="Liberation Sans, sans-serif" font-size="14" letter-spacing="0.7">-15</text>
<line x1="718.2" y1="470.5" x2="718.2" y2="474.5" stroke="#222" stroke-width="1"/>
<line x1="718.2" y1="483.9" x2="718.2" y2="487.9" stroke="#222" stroke-width="1"/>
<text x="717" y="503.7" text-anchor="middle" font-family="Liberation Sans, sans-serif" font-size="14" letter-spacing="0.7">-10</text>
<line x1="850.8" y1="470.5" x2="850.8" y2="474.5" stroke="#222" stroke-width="1"/>
<line x1="850.8" y1="483.9" x2="850.8" y2="487.9" stroke="#222" stroke-width="1"/>
<text x="849.6" y="503.7" text-anchor="middle" font-family="Liberation Sans, sans-serif" font-size="14" letter-spacing="0.7">-5</text>
<line x1="982.9" y1="470.5" x2="982.9" y2="474.5" stroke="#222" stroke-width="1"/>
<line x1="982.9" y1="483.9" x2="982.9" y2="487.9" stroke="#222" stroke-width="1"/>
<text x="981.7" y="503.7" text-anchor="middle" font-family="Liberation Sans, sans-serif" font-size="14" letter-spacing="0.7">0</text>
</svg></body></html>
